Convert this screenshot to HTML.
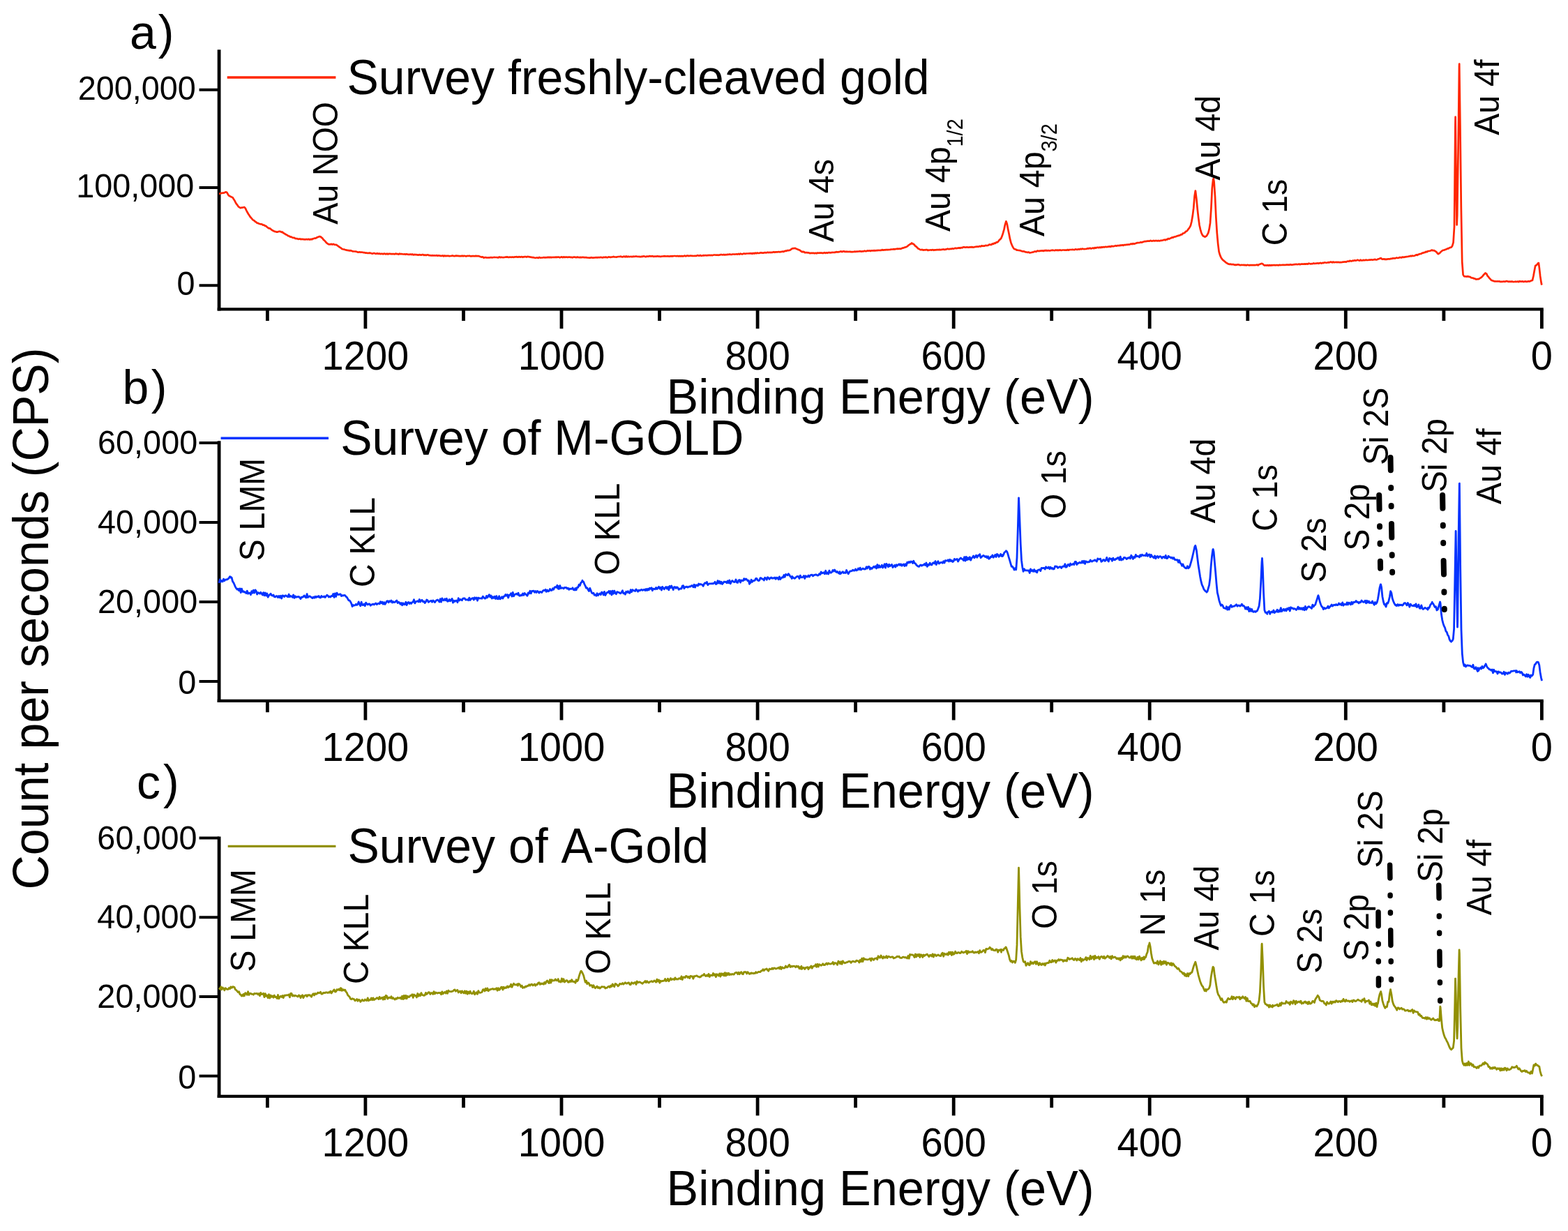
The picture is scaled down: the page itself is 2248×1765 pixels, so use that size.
<!DOCTYPE html>
<html lang="en">
<head>
<meta charset="utf-8">
<title>XPS survey spectra</title>
<style>
html,body{margin:0;padding:0;background:#fff;}
body{width:2248px;height:1765px;overflow:hidden;}
svg{display:block;}
svg text{font-family:"Liberation Sans", Arial, Helvetica, sans-serif;fill:#000;font-kerning:none;font-variant-ligatures:none;}
</style>
</head>
<body>
<svg width="2248" height="1765" viewBox="0 0 2248 1765">
<rect width="2248" height="1765" fill="#fff"/>
<g id="panel-a">
<path d="M314.1 71.3 V445.5" fill="none" stroke="#000" stroke-width="4.8"/>
<path d="M311.7 443.4 H2212.8" fill="none" stroke="#000" stroke-width="4.2"/>
<path d="M285.6 409.2 H314.1 M285.6 268.9 H314.1 M285.6 128.7 H314.1" fill="none" stroke="#000" stroke-width="4.0"/>
<path d="M2210.4 443.4 v27.8 M2069.9 443.4 v16.5 M1929.3 443.4 v27.8 M1788.8 443.4 v16.5 M1648.2 443.4 v27.8 M1507.7 443.4 v16.5 M1367.2 443.4 v27.8 M1226.6 443.4 v16.5 M1086.1 443.4 v27.8 M945.5 443.4 v16.5 M805.0 443.4 v27.8 M664.5 443.4 v16.5 M523.9 443.4 v27.8 M383.4 443.4 v16.5" fill="none" stroke="#000" stroke-width="4.8"/>
<text transform="translate(279.6 423.4) scale(1 1.04)" font-size="46.8" text-anchor="end">0</text>
<text transform="translate(278.3 283.1) scale(1 1.04)" font-size="46.8" text-anchor="end">100,000</text>
<text transform="translate(280.9 142.9) scale(1 1.04)" font-size="46.8" text-anchor="end">200,000</text>
<text transform="translate(2210.4 530.0) scale(1 1.04)" font-size="56.0" text-anchor="middle">0</text>
<text transform="translate(1929.3 530.0) scale(1 1.04)" font-size="56.0" text-anchor="middle">200</text>
<text transform="translate(1648.2 530.0) scale(1 1.04)" font-size="56.0" text-anchor="middle">400</text>
<text transform="translate(1367.2 530.0) scale(1 1.04)" font-size="56.0" text-anchor="middle">600</text>
<text transform="translate(1086.1 530.0) scale(1 1.04)" font-size="56.0" text-anchor="middle">800</text>
<text transform="translate(805.0 530.0) scale(1 1.04)" font-size="56.0" text-anchor="middle">1000</text>
<text transform="translate(523.9 530.0) scale(1 1.04)" font-size="56.0" text-anchor="middle">1200</text>
<text transform="translate(1262.0 592.6) scale(1 1.025)" font-size="68.5" text-anchor="middle">Binding Energy (eV)</text>
</g>
<g id="panel-b">
<path d="M314.1 632.2 V1006.9" fill="none" stroke="#000" stroke-width="4.8"/>
<path d="M311.7 1004.8 H2212.8" fill="none" stroke="#000" stroke-width="4.2"/>
<path d="M285.6 977.0 H314.1 M285.6 863.0 H314.1 M285.6 749.0 H314.1 M285.6 635.0 H314.1" fill="none" stroke="#000" stroke-width="4.0"/>
<path d="M2210.4 1004.8 v27.8 M2069.9 1004.8 v16.5 M1929.3 1004.8 v27.8 M1788.8 1004.8 v16.5 M1648.2 1004.8 v27.8 M1507.7 1004.8 v16.5 M1367.2 1004.8 v27.8 M1226.6 1004.8 v16.5 M1086.1 1004.8 v27.8 M945.5 1004.8 v16.5 M805.0 1004.8 v27.8 M664.5 1004.8 v16.5 M523.9 1004.8 v27.8 M383.4 1004.8 v16.5" fill="none" stroke="#000" stroke-width="4.8"/>
<text transform="translate(281.2 994.8) scale(1 1.04)" font-size="46.8" text-anchor="end">0</text>
<text transform="translate(283.2 879.0) scale(1 1.04)" font-size="46.8" text-anchor="end">20,000</text>
<text transform="translate(283.2 765.0) scale(1 1.04)" font-size="46.8" text-anchor="end">40,000</text>
<text transform="translate(283.2 651.0) scale(1 1.04)" font-size="46.8" text-anchor="end">60,000</text>
<text transform="translate(2210.4 1091.4) scale(1 1.04)" font-size="56.0" text-anchor="middle">0</text>
<text transform="translate(1929.3 1091.4) scale(1 1.04)" font-size="56.0" text-anchor="middle">200</text>
<text transform="translate(1648.2 1091.4) scale(1 1.04)" font-size="56.0" text-anchor="middle">400</text>
<text transform="translate(1367.2 1091.4) scale(1 1.04)" font-size="56.0" text-anchor="middle">600</text>
<text transform="translate(1086.1 1091.4) scale(1 1.04)" font-size="56.0" text-anchor="middle">800</text>
<text transform="translate(805.0 1091.4) scale(1 1.04)" font-size="56.0" text-anchor="middle">1000</text>
<text transform="translate(523.9 1091.4) scale(1 1.04)" font-size="56.0" text-anchor="middle">1200</text>
<text transform="translate(1262.0 1158.0) scale(1 1.025)" font-size="68.5" text-anchor="middle">Binding Energy (eV)</text>
</g>
<g id="panel-c">
<path d="M314.1 1199.5 V1573.9" fill="none" stroke="#000" stroke-width="4.8"/>
<path d="M311.7 1571.8 H2212.8" fill="none" stroke="#000" stroke-width="4.2"/>
<path d="M285.6 1542.8 H314.1 M285.6 1429.0 H314.1 M285.6 1315.3 H314.1 M285.6 1201.5 H314.1" fill="none" stroke="#000" stroke-width="4.0"/>
<path d="M2210.4 1571.8 v27.8 M2069.9 1571.8 v16.5 M1929.3 1571.8 v27.8 M1788.8 1571.8 v16.5 M1648.2 1571.8 v27.8 M1507.7 1571.8 v16.5 M1367.2 1571.8 v27.8 M1226.6 1571.8 v16.5 M1086.1 1571.8 v27.8 M945.5 1571.8 v16.5 M805.0 1571.8 v27.8 M664.5 1571.8 v16.5 M523.9 1571.8 v27.8 M383.4 1571.8 v16.5" fill="none" stroke="#000" stroke-width="4.8"/>
<text transform="translate(281.3 1561.1) scale(1 1.04)" font-size="46.8" text-anchor="end">0</text>
<text transform="translate(282.5 1445.0) scale(1 1.04)" font-size="46.8" text-anchor="end">20,000</text>
<text transform="translate(282.5 1331.3) scale(1 1.04)" font-size="46.8" text-anchor="end">40,000</text>
<text transform="translate(282.5 1217.5) scale(1 1.04)" font-size="46.8" text-anchor="end">60,000</text>
<text transform="translate(2210.4 1658.4) scale(1 1.04)" font-size="56.0" text-anchor="middle">0</text>
<text transform="translate(1929.3 1658.4) scale(1 1.04)" font-size="56.0" text-anchor="middle">200</text>
<text transform="translate(1648.2 1658.4) scale(1 1.04)" font-size="56.0" text-anchor="middle">400</text>
<text transform="translate(1367.2 1658.4) scale(1 1.04)" font-size="56.0" text-anchor="middle">600</text>
<text transform="translate(1086.1 1658.4) scale(1 1.04)" font-size="56.0" text-anchor="middle">800</text>
<text transform="translate(805.0 1658.4) scale(1 1.04)" font-size="56.0" text-anchor="middle">1000</text>
<text transform="translate(523.9 1658.4) scale(1 1.04)" font-size="56.0" text-anchor="middle">1200</text>
<text transform="translate(1262.0 1728.0) scale(1 1.025)" font-size="68.5" text-anchor="middle">Binding Energy (eV)</text>
</g>
<text transform="translate(186.0 69.9)" font-size="68.0" letter-spacing="3">a)</text>
<text transform="translate(175.5 579.2)" font-size="68.0" letter-spacing="3.5">b)</text>
<text transform="translate(196.0 1145.4)" font-size="68.0" letter-spacing="4">c)</text>
<path d="M325.7 111 H481.4" stroke="#FF2600" stroke-width="3.4"/>
<text transform="translate(497.5 135.0) scale(1 1.025)" font-size="68.0">Survey freshly-cleaved gold</text>
<path d="M316.6 628.2 H471" stroke="#0433FF" stroke-width="3.4"/>
<text transform="translate(488.2 651.5) scale(1 1.025)" font-size="68.0">Survey of M-GOLD</text>
<path d="M326.7 1213.4 H481.4" stroke="#929000" stroke-width="3.4"/>
<text transform="translate(498.5 1236.5) scale(1 1.025)" font-size="68.0">Survey of A-Gold</text>
<text transform="translate(69.2 887.0) rotate(-90) scale(1 1.05)" font-size="68.2" text-anchor="middle">Count per seconds (CPS)</text>
<g id="spectra" fill="none" stroke-linejoin="round" stroke-linecap="butt">
<path d="M314.0 277.8 L315.4 277.6 L316.8 277.1 L318.2 276.8 L319.6 276.6 L321.0 276.6 L322.4 275.8 L323.8 275.4 L325.2 275.7 L326.6 278.3 L328.0 280.6 L329.4 281.1 L330.8 282.1 L332.2 282.6 L333.6 283.3 L335.0 285.4 L336.4 287.6 L337.8 290.5 L339.2 292.7 L340.6 294.4 L342.0 296.4 L343.4 297.3 L344.8 298.2 L346.2 297.7 L347.6 297.6 L349.0 297.3 L350.0 297.0 L350.4 297.1 L351.8 298.7 L353.2 301.6 L354.6 304.3 L356.0 306.7 L357.4 308.7 L358.8 311.0 L360.2 312.5 L361.6 314.2 L363.0 315.6 L364.4 316.3 L365.8 317.7 L367.2 318.5 L368.6 319.9 L370.0 319.9 L371.4 320.8 L372.8 321.1 L374.2 321.3 L375.6 321.5 L377.0 322.7 L378.4 322.6 L379.8 323.8 L381.2 323.9 L382.6 325.2 L384.0 326.4 L385.4 327.3 L386.8 327.4 L388.2 328.5 L389.6 329.6 L391.0 330.6 L392.4 331.2 L393.8 332.0 L395.2 332.1 L396.6 332.7 L398.0 332.6 L399.4 332.0 L400.8 331.7 L402.2 332.0 L403.6 332.8 L405.0 332.7 L406.4 334.3 L407.8 334.7 L409.2 335.9 L410.6 336.4 L412.0 337.3 L413.4 338.3 L414.8 338.6 L416.2 339.6 L417.6 339.7 L419.0 340.4 L420.4 341.0 L421.8 340.8 L423.2 341.9 L424.6 342.1 L426.0 342.1 L427.4 342.9 L428.8 342.7 L430.2 342.5 L431.6 343.2 L433.0 342.8 L434.4 343.1 L435.8 343.1 L437.2 343.5 L438.6 343.1 L440.0 343.2 L441.4 343.3 L442.8 342.8 L444.2 343.7 L445.6 342.8 L447.0 343.3 L448.4 342.3 L449.8 342.1 L451.2 341.6 L452.6 341.7 L454.0 340.7 L455.4 340.0 L456.8 339.6 L458.2 339.0 L458.8 339.3 L459.6 339.3 L461.0 340.7 L462.4 341.7 L463.8 343.8 L465.2 344.9 L466.6 346.4 L468.0 348.2 L469.4 349.1 L470.8 350.1 L472.2 350.3 L473.6 350.4 L475.0 349.8 L476.4 350.6 L477.8 349.8 L479.2 350.6 L480.6 351.0 L482.0 350.9 L483.4 351.8 L484.8 352.9 L486.2 353.9 L487.6 354.9 L489.0 355.7 L490.4 357.0 L491.8 357.3 L493.2 357.5 L494.6 358.0 L496.0 358.4 L497.4 358.8 L498.8 358.9 L500.2 359.3 L501.6 359.2 L503.0 359.4 L504.4 359.8 L505.8 360.4 L507.2 360.5 L508.6 360.5 L510.0 360.6 L511.4 361.1 L512.8 361.6 L514.2 361.6 L515.6 361.3 L517.0 361.8 L518.4 361.5 L519.8 361.8 L521.2 362.2 L522.6 362.2 L524.0 362.6 L525.4 362.7 L526.8 362.8 L528.2 363.0 L529.6 362.6 L531.0 362.8 L532.4 363.3 L533.8 363.7 L535.2 363.2 L536.6 363.1 L538.0 363.6 L539.4 363.8 L540.8 363.2 L542.2 364.0 L543.6 363.4 L545.0 364.2 L546.4 363.8 L547.8 363.9 L549.2 364.3 L550.6 363.6 L552.0 363.8 L553.4 364.4 L554.8 363.6 L556.2 364.5 L557.6 363.8 L559.0 363.8 L560.4 364.1 L561.8 364.0 L563.2 364.1 L564.6 364.0 L566.0 364.4 L567.4 363.6 L568.8 364.2 L570.2 364.1 L571.6 364.7 L573.0 363.7 L574.4 364.3 L575.8 364.0 L577.2 364.3 L578.6 364.5 L580.0 364.4 L581.4 364.8 L582.8 364.2 L584.2 364.7 L585.6 364.8 L587.0 364.8 L588.4 364.6 L589.8 365.1 L591.2 364.5 L592.6 365.4 L594.0 364.9 L595.4 365.1 L596.8 365.2 L598.2 365.4 L599.6 365.6 L601.0 365.2 L602.4 365.4 L603.8 365.6 L605.2 365.2 L606.6 365.2 L608.0 366.0 L609.4 365.5 L610.8 366.1 L612.2 365.5 L613.6 365.4 L615.0 366.2 L616.4 366.0 L617.8 366.5 L619.2 366.2 L620.6 366.3 L622.0 366.4 L623.4 366.3 L624.8 366.5 L626.2 366.1 L627.6 366.8 L629.0 366.3 L630.4 366.6 L631.8 366.9 L633.2 366.9 L634.6 366.4 L636.0 367.3 L637.4 366.5 L638.8 367.1 L640.2 366.9 L641.6 366.8 L643.0 366.9 L644.4 367.3 L645.8 367.0 L647.2 367.0 L648.6 366.4 L650.0 366.9 L651.4 367.2 L652.8 366.9 L654.2 366.7 L655.6 366.9 L657.0 366.9 L658.4 367.2 L659.8 367.0 L661.2 367.2 L662.6 366.7 L664.0 367.3 L665.4 366.8 L666.8 367.0 L668.2 367.4 L669.6 366.9 L671.0 367.0 L672.4 366.9 L673.8 366.9 L675.2 367.4 L676.6 367.2 L678.0 367.1 L679.4 367.0 L680.8 367.3 L682.2 366.9 L683.6 367.2 L685.0 367.0 L686.4 367.1 L687.8 367.8 L689.2 368.2 L690.6 368.6 L692.0 368.3 L693.4 369.6 L694.8 369.2 L696.2 369.1 L697.6 369.3 L699.0 369.5 L700.4 369.4 L701.8 369.3 L703.2 369.2 L704.6 369.2 L706.0 369.3 L707.4 369.0 L708.8 368.9 L710.2 369.0 L711.6 369.0 L713.0 369.1 L714.4 369.5 L715.8 368.4 L717.2 369.2 L718.6 368.7 L720.0 369.0 L721.4 369.1 L722.8 369.0 L724.2 368.7 L725.6 368.6 L727.0 368.4 L728.4 368.8 L729.8 368.9 L731.2 368.5 L732.6 368.8 L734.0 368.7 L735.4 368.6 L736.8 368.8 L738.2 368.4 L739.6 368.3 L741.0 368.2 L742.4 368.7 L743.8 368.2 L745.2 368.4 L746.6 368.6 L748.0 368.1 L749.4 368.8 L750.8 368.3 L752.2 368.1 L753.6 368.1 L755.0 368.6 L756.4 367.8 L757.8 368.2 L759.2 368.4 L760.6 368.6 L762.0 368.8 L763.4 369.1 L764.8 369.1 L766.2 369.5 L767.6 369.8 L769.0 369.5 L770.4 369.4 L771.8 369.9 L773.2 368.9 L774.6 369.6 L776.0 369.5 L777.4 369.5 L778.8 369.2 L780.2 369.2 L781.6 369.4 L783.0 369.0 L784.4 369.3 L785.8 368.6 L787.2 369.3 L788.6 368.7 L790.0 369.3 L791.4 368.9 L792.8 369.0 L794.2 368.7 L795.6 369.0 L797.0 368.6 L798.4 368.9 L799.8 368.7 L801.2 368.6 L802.6 369.3 L804.0 368.8 L805.4 368.3 L806.8 369.2 L808.2 368.3 L809.6 368.9 L811.0 368.6 L812.4 368.7 L813.8 368.9 L815.2 368.7 L816.6 368.5 L818.0 368.9 L819.4 368.9 L820.8 369.3 L822.2 368.6 L823.6 368.7 L825.0 368.9 L826.4 369.1 L827.8 368.6 L829.2 368.9 L830.6 369.1 L832.0 368.9 L833.4 369.1 L834.8 368.9 L836.2 368.9 L837.6 369.1 L839.0 369.1 L840.4 369.1 L841.8 369.4 L843.2 369.5 L844.6 369.6 L846.0 369.6 L847.4 369.2 L848.8 369.3 L850.2 369.7 L851.6 369.3 L853.0 369.5 L854.4 369.0 L855.8 369.4 L857.2 369.1 L858.6 369.1 L860.0 369.1 L861.4 368.8 L862.8 369.2 L864.2 369.3 L865.6 368.7 L867.0 369.0 L868.4 368.6 L869.8 369.1 L871.2 369.1 L872.6 368.3 L874.0 368.7 L875.4 368.9 L876.8 368.5 L878.2 368.5 L879.6 367.9 L881.0 368.5 L882.4 368.5 L883.8 368.6 L885.2 368.3 L886.6 368.0 L888.0 368.0 L889.4 367.7 L890.8 367.9 L892.2 368.4 L893.6 367.9 L895.0 367.7 L896.4 368.4 L897.8 367.4 L899.2 368.4 L900.6 367.7 L902.0 368.1 L903.4 368.0 L904.8 367.9 L906.2 368.2 L907.6 367.7 L909.0 367.8 L910.4 367.7 L911.8 367.5 L913.2 367.7 L914.6 368.0 L916.0 367.9 L917.4 368.1 L918.8 368.2 L920.2 367.7 L921.6 367.8 L923.0 367.3 L924.4 367.8 L925.8 368.2 L927.2 367.6 L928.6 367.6 L930.0 367.7 L931.4 367.1 L932.8 367.6 L934.2 367.3 L935.6 367.2 L937.0 367.9 L938.4 367.7 L939.8 367.5 L941.2 367.6 L942.6 367.2 L944.0 367.7 L945.4 367.6 L946.8 367.8 L948.2 367.7 L949.6 367.5 L951.0 367.4 L952.4 367.2 L953.8 367.3 L955.2 367.5 L956.6 367.4 L958.0 367.3 L959.4 367.7 L960.8 367.3 L962.2 367.3 L963.6 367.2 L965.0 367.3 L966.4 367.0 L967.8 367.0 L969.2 367.3 L970.6 367.0 L972.0 367.1 L973.4 367.4 L974.8 366.9 L976.2 367.5 L977.6 366.9 L979.0 367.5 L980.4 367.0 L981.8 366.6 L983.2 367.4 L984.6 366.7 L986.0 366.5 L987.4 367.1 L988.8 366.8 L990.2 366.5 L991.6 366.8 L993.0 366.9 L994.4 367.0 L995.8 366.9 L997.2 366.9 L998.6 366.8 L1000.0 366.1 L1001.4 366.6 L1002.8 366.6 L1004.2 366.0 L1005.6 366.8 L1007.0 366.5 L1008.4 366.1 L1009.8 366.3 L1011.2 366.0 L1012.6 366.3 L1014.0 366.1 L1015.4 366.1 L1016.8 365.8 L1018.2 366.2 L1019.6 365.8 L1021.0 366.2 L1022.4 365.8 L1023.8 365.5 L1025.2 365.5 L1026.6 365.8 L1028.0 365.5 L1029.4 365.8 L1030.8 365.7 L1032.2 365.4 L1033.6 365.0 L1035.0 365.2 L1036.4 365.5 L1037.8 364.9 L1039.2 365.6 L1040.6 365.0 L1042.0 365.3 L1043.4 364.7 L1044.8 365.0 L1046.2 364.4 L1047.6 365.0 L1049.0 364.9 L1050.4 364.5 L1051.8 364.5 L1053.2 364.6 L1054.6 364.5 L1056.0 364.3 L1057.4 364.6 L1058.8 363.8 L1060.2 364.7 L1061.6 363.7 L1063.0 364.1 L1064.4 364.4 L1065.8 363.6 L1067.2 363.6 L1068.6 364.0 L1070.0 363.5 L1071.4 363.5 L1072.8 363.5 L1074.2 363.4 L1075.6 363.3 L1077.0 363.2 L1078.4 363.8 L1079.8 362.9 L1081.2 363.6 L1082.6 362.6 L1084.0 363.3 L1085.4 362.6 L1086.8 362.9 L1088.2 363.0 L1089.6 362.6 L1091.0 362.2 L1092.4 362.6 L1093.8 362.5 L1095.2 362.6 L1096.6 362.1 L1098.0 362.3 L1099.4 362.2 L1100.8 361.7 L1102.2 362.2 L1103.6 361.8 L1105.0 362.1 L1106.4 361.8 L1107.8 361.8 L1109.2 361.2 L1110.6 361.8 L1112.0 361.4 L1113.4 361.3 L1114.8 361.3 L1116.2 361.0 L1117.6 361.3 L1119.0 361.1 L1120.4 361.0 L1121.8 360.5 L1123.2 361.0 L1124.6 360.3 L1126.0 359.7 L1127.4 359.8 L1128.8 359.0 L1130.2 359.2 L1131.6 358.9 L1133.0 358.5 L1134.4 357.3 L1135.8 356.3 L1137.2 356.2 L1138.6 356.1 L1140.0 355.8 L1141.4 356.7 L1142.8 357.1 L1144.2 357.9 L1145.6 358.3 L1147.0 358.9 L1148.4 360.1 L1149.8 361.1 L1151.2 360.9 L1152.6 361.1 L1154.0 362.3 L1155.4 362.0 L1156.8 362.2 L1158.2 362.4 L1159.6 362.4 L1161.0 363.2 L1162.4 362.9 L1163.8 362.9 L1165.2 362.9 L1166.6 362.9 L1168.0 363.3 L1169.4 362.8 L1170.8 363.3 L1172.2 362.5 L1173.6 362.8 L1175.0 362.7 L1176.4 362.7 L1177.8 362.7 L1179.2 362.9 L1180.6 362.8 L1182.0 362.2 L1183.4 362.9 L1184.8 362.3 L1186.2 362.8 L1187.6 362.1 L1189.0 362.1 L1190.4 362.4 L1191.8 362.2 L1193.2 361.9 L1194.6 362.0 L1196.0 361.9 L1197.4 361.8 L1198.8 361.1 L1200.2 361.3 L1201.6 361.3 L1203.0 361.2 L1204.4 360.8 L1205.8 360.4 L1207.2 361.2 L1208.6 360.3 L1210.0 360.3 L1211.4 361.0 L1212.8 360.7 L1214.2 360.9 L1215.6 360.9 L1217.0 361.0 L1218.4 360.7 L1219.8 361.1 L1221.2 361.0 L1222.6 361.1 L1224.0 361.0 L1225.4 360.6 L1226.8 360.8 L1228.2 360.7 L1229.6 360.7 L1231.0 360.5 L1232.4 360.2 L1233.8 360.4 L1235.2 360.6 L1236.6 360.3 L1238.0 360.4 L1239.4 359.7 L1240.8 360.1 L1242.2 360.2 L1243.6 359.4 L1245.0 359.7 L1246.4 359.3 L1247.8 360.0 L1249.2 359.3 L1250.6 359.3 L1252.0 359.4 L1253.4 359.1 L1254.8 359.3 L1256.2 359.2 L1257.6 359.1 L1259.0 358.9 L1260.4 359.0 L1261.8 358.8 L1263.2 358.9 L1264.6 358.1 L1266.0 358.7 L1267.4 358.3 L1268.8 358.4 L1270.2 358.2 L1271.6 358.2 L1273.0 358.2 L1274.4 358.0 L1275.8 358.0 L1277.2 357.6 L1278.6 357.5 L1280.0 357.5 L1281.4 357.1 L1282.8 357.4 L1284.2 357.0 L1285.6 356.8 L1287.0 356.6 L1288.4 356.8 L1289.8 356.5 L1291.2 356.9 L1292.6 356.2 L1294.0 355.6 L1295.4 355.4 L1296.8 354.8 L1298.2 354.4 L1299.6 353.9 L1301.0 353.1 L1302.4 351.7 L1303.8 350.9 L1305.2 349.7 L1306.6 349.5 L1307.2 348.5 L1308.0 349.5 L1309.4 349.7 L1310.8 350.9 L1312.2 352.8 L1313.6 353.5 L1315.0 355.1 L1316.4 356.4 L1317.8 357.0 L1319.2 358.0 L1320.6 358.3 L1322.0 357.8 L1323.4 358.6 L1324.8 358.3 L1326.2 358.5 L1327.6 358.1 L1329.0 358.1 L1330.4 359.0 L1331.8 358.6 L1333.2 358.5 L1334.6 358.4 L1336.0 358.6 L1337.4 358.1 L1338.8 358.8 L1340.2 358.3 L1341.6 358.3 L1343.0 358.2 L1344.4 358.2 L1345.8 358.1 L1347.2 357.9 L1348.6 358.2 L1350.0 357.8 L1351.4 357.7 L1352.8 357.4 L1354.2 357.9 L1355.6 357.6 L1357.0 357.4 L1358.4 356.7 L1359.8 357.1 L1361.2 357.1 L1362.6 356.7 L1364.0 357.0 L1365.4 356.3 L1366.8 356.7 L1368.2 356.3 L1369.6 355.7 L1371.0 356.1 L1372.4 355.8 L1373.8 355.6 L1375.2 355.4 L1376.6 355.8 L1378.0 355.0 L1379.4 355.3 L1380.8 354.4 L1382.2 354.3 L1383.6 354.6 L1385.0 354.6 L1386.4 354.3 L1387.8 354.7 L1389.2 354.6 L1390.6 354.3 L1392.0 354.4 L1393.4 354.1 L1394.8 354.6 L1396.2 354.5 L1397.6 354.0 L1399.0 353.8 L1400.4 353.6 L1401.8 353.5 L1403.2 353.6 L1404.6 352.9 L1406.0 353.5 L1407.4 352.4 L1408.8 352.8 L1410.2 352.7 L1411.6 352.6 L1413.0 351.8 L1414.4 352.1 L1415.8 352.0 L1417.2 351.4 L1418.6 350.5 L1420.0 350.9 L1421.4 350.8 L1422.8 349.4 L1424.2 349.9 L1425.6 348.5 L1427.0 348.9 L1428.4 347.4 L1429.8 347.4 L1431.2 346.2 L1432.6 344.3 L1434.0 343.1 L1435.4 341.5 L1436.8 338.1 L1438.2 333.7 L1439.6 328.6 L1441.0 321.9 L1442.4 317.4 L1442.5 317.5 L1443.8 321.2 L1445.2 328.7 L1446.6 335.4 L1448.0 342.7 L1449.4 347.9 L1450.8 351.5 L1452.2 354.4 L1453.6 356.6 L1455.0 357.3 L1456.4 357.6 L1457.8 358.7 L1459.2 358.7 L1460.6 359.0 L1462.0 359.1 L1463.4 359.6 L1464.8 360.1 L1466.2 360.3 L1467.6 360.4 L1469.0 360.8 L1470.4 361.4 L1471.8 361.5 L1473.2 362.0 L1474.6 361.5 L1476.0 362.3 L1477.4 362.3 L1478.8 362.0 L1480.2 361.6 L1481.6 361.5 L1483.0 360.5 L1484.4 360.6 L1485.8 360.8 L1487.2 359.6 L1488.6 359.8 L1490.0 360.1 L1491.4 359.5 L1492.8 359.6 L1494.2 359.3 L1495.6 360.0 L1497.0 359.1 L1498.4 359.4 L1499.8 358.8 L1501.2 359.6 L1502.6 359.1 L1504.0 359.3 L1505.4 359.4 L1506.8 359.0 L1508.2 358.7 L1509.6 358.8 L1511.0 359.0 L1512.4 359.2 L1513.8 358.4 L1515.2 358.9 L1516.6 358.7 L1518.0 358.9 L1519.4 358.4 L1520.8 358.8 L1522.2 358.8 L1523.6 358.5 L1525.0 358.5 L1526.4 358.6 L1527.8 358.5 L1529.2 358.7 L1530.6 358.0 L1532.0 358.7 L1533.4 358.0 L1534.8 358.0 L1536.2 358.0 L1537.6 357.7 L1539.0 358.0 L1540.4 358.1 L1541.8 357.3 L1543.2 357.6 L1544.6 357.8 L1546.0 357.3 L1547.4 357.7 L1548.8 356.9 L1550.2 357.3 L1551.6 356.6 L1553.0 357.0 L1554.4 357.1 L1555.8 357.0 L1557.2 357.0 L1558.6 356.4 L1560.0 356.2 L1561.4 356.3 L1562.8 355.7 L1564.2 356.5 L1565.6 356.0 L1567.0 355.5 L1568.4 356.2 L1569.8 355.0 L1571.2 355.7 L1572.6 354.9 L1574.0 354.8 L1575.4 355.2 L1576.8 354.5 L1578.2 355.1 L1579.6 354.2 L1581.0 354.6 L1582.4 354.1 L1583.8 354.3 L1585.2 353.8 L1586.6 354.2 L1588.0 353.8 L1589.4 353.6 L1590.8 353.4 L1592.2 353.8 L1593.6 352.8 L1595.0 353.1 L1596.4 353.1 L1597.8 352.7 L1599.2 352.2 L1600.6 352.6 L1602.0 352.2 L1603.4 352.0 L1604.8 352.2 L1606.2 351.6 L1607.6 351.8 L1609.0 351.3 L1610.4 351.9 L1611.8 351.0 L1613.2 351.3 L1614.6 350.9 L1616.0 350.9 L1617.4 350.5 L1618.8 350.6 L1620.2 350.2 L1621.6 349.5 L1623.0 350.1 L1624.4 349.2 L1625.8 349.8 L1627.2 349.2 L1628.6 348.9 L1630.0 348.2 L1631.4 348.1 L1632.8 348.0 L1634.2 347.8 L1635.6 347.2 L1637.0 347.7 L1638.4 346.8 L1639.8 346.6 L1641.2 346.1 L1642.6 346.1 L1644.0 345.8 L1645.4 345.6 L1646.8 345.6 L1648.2 345.7 L1649.6 344.9 L1651.0 345.6 L1652.4 345.5 L1653.8 344.9 L1655.2 345.4 L1656.6 345.1 L1658.0 345.0 L1659.4 345.5 L1660.8 344.9 L1662.2 345.4 L1663.6 344.9 L1665.0 344.8 L1666.4 344.7 L1667.8 344.3 L1669.2 343.7 L1670.6 344.3 L1672.0 343.3 L1673.4 343.4 L1674.8 342.1 L1676.2 342.6 L1677.6 341.8 L1679.0 341.3 L1680.4 340.3 L1681.8 340.6 L1683.2 339.7 L1684.6 339.5 L1686.0 339.1 L1687.4 338.4 L1688.8 338.2 L1690.2 337.6 L1691.6 337.4 L1693.0 336.3 L1694.4 336.3 L1695.8 334.6 L1697.2 334.4 L1698.6 333.6 L1700.0 331.9 L1701.4 331.5 L1702.8 329.8 L1704.2 327.9 L1705.6 325.9 L1707.0 323.3 L1708.4 317.6 L1709.8 309.6 L1711.2 298.4 L1712.6 281.1 L1713.8 273.6 L1714.0 274.1 L1715.4 285.4 L1716.8 300.4 L1718.2 312.6 L1719.6 323.0 L1721.0 329.1 L1722.4 334.0 L1723.8 336.9 L1725.2 338.6 L1726.6 339.0 L1727.5 339.8 L1728.0 339.1 L1729.4 338.8 L1730.8 336.7 L1732.2 334.1 L1733.6 328.7 L1735.0 319.9 L1736.4 298.8 L1737.8 269.8 L1739.2 257.1 L1739.8 256.2 L1740.6 260.8 L1742.0 281.5 L1743.4 312.1 L1744.8 334.1 L1746.2 349.6 L1747.6 360.8 L1749.0 365.6 L1750.4 368.9 L1751.8 371.2 L1753.2 372.8 L1754.6 373.9 L1756.0 375.0 L1757.4 376.3 L1758.8 377.1 L1760.2 378.1 L1761.6 378.7 L1763.0 378.9 L1764.4 378.7 L1765.8 379.2 L1767.2 379.2 L1768.6 379.2 L1770.0 379.8 L1771.4 379.6 L1772.8 379.8 L1774.2 379.4 L1775.6 379.3 L1777.0 379.9 L1778.4 380.2 L1779.8 379.8 L1781.2 380.0 L1782.6 379.9 L1784.0 380.1 L1785.4 379.9 L1786.8 380.4 L1788.2 379.8 L1789.6 380.0 L1791.0 380.4 L1792.4 380.1 L1793.8 380.2 L1795.2 380.1 L1796.6 380.0 L1798.0 380.1 L1799.4 380.1 L1800.8 380.0 L1802.2 379.5 L1803.6 380.4 L1805.0 379.2 L1806.4 378.8 L1807.8 378.2 L1809.2 377.8 L1810.6 378.6 L1812.0 380.1 L1813.4 380.7 L1814.8 380.3 L1816.2 380.7 L1817.6 380.1 L1819.0 380.8 L1820.4 380.0 L1821.8 380.7 L1823.2 380.1 L1824.6 380.3 L1826.0 380.0 L1827.4 380.1 L1828.8 380.3 L1830.2 380.0 L1831.6 380.2 L1833.0 380.4 L1834.4 379.8 L1835.8 380.1 L1837.2 380.0 L1838.6 379.8 L1840.0 379.9 L1841.4 379.9 L1842.8 380.0 L1844.2 379.5 L1845.6 379.7 L1847.0 379.6 L1848.4 379.9 L1849.8 379.2 L1851.2 379.6 L1852.6 379.6 L1854.0 379.5 L1855.4 379.1 L1856.8 379.1 L1858.2 378.8 L1859.6 379.1 L1861.0 379.0 L1862.4 378.6 L1863.8 379.2 L1865.2 378.7 L1866.6 378.7 L1868.0 378.5 L1869.4 378.7 L1870.8 378.4 L1872.2 378.6 L1873.6 378.2 L1875.0 378.6 L1876.4 377.7 L1877.8 378.0 L1879.2 378.5 L1880.6 378.0 L1882.0 378.2 L1883.4 377.4 L1884.8 378.0 L1886.2 377.7 L1887.6 377.7 L1889.0 377.3 L1890.4 377.8 L1891.8 377.2 L1893.2 376.9 L1894.6 377.6 L1896.0 376.8 L1897.4 377.2 L1898.8 376.4 L1900.2 376.5 L1901.6 376.8 L1903.0 376.5 L1904.4 376.1 L1905.8 376.4 L1907.2 375.7 L1908.6 375.7 L1910.0 376.4 L1911.4 375.5 L1912.8 376.2 L1914.2 376.0 L1915.6 375.8 L1917.0 376.1 L1918.4 375.8 L1919.8 376.2 L1921.2 376.1 L1922.6 376.2 L1924.0 376.0 L1925.4 375.6 L1926.8 375.7 L1928.2 375.3 L1929.6 375.7 L1931.0 375.1 L1932.4 374.5 L1933.8 374.8 L1935.2 373.8 L1936.6 374.3 L1938.0 374.3 L1939.4 373.6 L1940.8 373.9 L1942.2 373.2 L1943.6 373.6 L1945.0 373.3 L1946.4 372.7 L1947.8 373.2 L1949.2 373.6 L1950.6 372.7 L1952.0 373.5 L1953.4 373.3 L1954.8 372.9 L1956.2 373.2 L1957.6 372.9 L1959.0 372.7 L1960.4 373.0 L1961.8 372.8 L1963.2 372.5 L1964.6 372.7 L1966.0 372.3 L1967.4 372.6 L1968.8 372.5 L1970.2 372.1 L1971.6 371.9 L1973.0 372.5 L1974.4 372.2 L1975.8 371.3 L1977.2 371.2 L1978.6 370.4 L1980.0 370.1 L1981.4 371.7 L1982.8 371.6 L1984.2 371.3 L1985.6 372.0 L1987.0 371.6 L1988.4 371.8 L1989.8 371.4 L1991.2 371.4 L1992.6 371.4 L1994.0 370.8 L1995.4 371.0 L1996.8 370.3 L1998.2 370.3 L1999.6 370.4 L2001.0 370.1 L2002.4 369.5 L2003.8 370.0 L2005.2 369.7 L2006.6 369.0 L2008.0 369.2 L2009.4 369.4 L2010.8 368.5 L2012.2 368.9 L2013.6 368.6 L2015.0 368.3 L2016.4 368.1 L2017.8 368.0 L2019.2 367.7 L2020.6 367.5 L2022.0 366.9 L2023.4 367.3 L2024.8 366.6 L2026.2 367.0 L2027.6 366.7 L2029.0 366.2 L2030.4 365.3 L2031.8 365.9 L2033.2 365.0 L2034.6 364.4 L2036.0 364.0 L2037.4 364.0 L2038.8 362.9 L2040.2 362.7 L2041.6 362.1 L2043.0 361.9 L2044.4 360.8 L2045.8 361.3 L2047.2 360.0 L2048.6 360.0 L2050.0 359.7 L2051.4 359.3 L2052.8 358.5 L2054.2 359.2 L2055.6 359.0 L2057.0 359.7 L2058.4 360.7 L2059.8 361.7 L2061.2 363.7 L2062.4 364.1 L2062.6 363.5 L2064.0 363.0 L2065.4 361.3 L2066.8 360.2 L2068.2 359.0 L2069.6 358.7 L2071.0 358.4 L2072.4 357.7 L2073.8 357.3 L2075.2 356.3 L2076.6 356.4 L2078.0 355.3 L2079.4 354.9 L2080.8 354.5 L2082.2 352.4 L2083.6 347.6 L2085.0 325.2 L2086.4 177.9 L2086.6 167.7 L2087.8 267.4 L2088.6 322.4 L2089.2 308.9 L2090.6 215.8 L2092.0 95.4 L2092.2 91.5 L2093.4 178.2 L2094.8 296.0 L2096.2 375.3 L2097.6 393.9 L2099.0 396.1 L2100.4 396.5 L2101.8 396.4 L2103.2 396.7 L2104.6 396.1 L2106.0 396.9 L2107.4 396.8 L2108.8 397.9 L2110.2 398.5 L2111.6 398.5 L2113.0 399.4 L2114.4 399.4 L2115.8 400.3 L2117.2 400.4 L2118.6 400.2 L2120.0 400.2 L2121.4 399.1 L2122.8 398.4 L2124.2 397.4 L2125.6 395.9 L2127.0 394.1 L2128.4 392.8 L2129.6 391.5 L2129.8 391.9 L2131.2 392.5 L2132.6 395.6 L2134.0 396.9 L2135.4 398.9 L2136.8 400.4 L2138.2 401.9 L2139.6 402.2 L2141.0 402.9 L2142.4 403.3 L2143.8 403.4 L2145.2 403.5 L2146.6 403.3 L2148.0 403.5 L2149.4 403.3 L2150.8 403.9 L2152.2 403.8 L2153.6 403.8 L2155.0 403.7 L2156.4 403.5 L2157.8 403.9 L2159.2 403.2 L2160.6 403.2 L2162.0 403.6 L2163.4 404.1 L2164.8 403.6 L2166.2 404.1 L2167.6 403.4 L2169.0 404.1 L2170.4 404.0 L2171.8 403.9 L2173.2 403.7 L2174.6 404.0 L2176.0 403.5 L2177.4 404.2 L2178.8 403.2 L2180.2 403.6 L2181.6 403.6 L2183.0 403.4 L2184.4 404.1 L2185.8 403.6 L2187.2 403.4 L2188.6 404.0 L2190.0 403.6 L2191.4 403.2 L2192.8 403.6 L2194.2 403.0 L2195.6 402.3 L2197.0 401.9 L2198.4 396.0 L2199.8 388.2 L2201.2 381.0 L2202.6 380.3 L2204.0 378.9 L2205.4 377.1 L2205.9 377.0 L2206.8 383.4 L2208.2 395.9 L2209.6 405.1 L2210.4 408.6" stroke="#FF2600" stroke-width="2.7"/>
<path d="M314.0 835.9 L315.3 830.9 L316.6 834.1 L317.9 832.5 L319.2 833.9 L320.5 830.1 L321.8 832.7 L323.1 831.1 L324.4 831.0 L325.7 830.9 L327.0 830.0 L328.3 828.7 L329.6 826.6 L330.5 828.1 L330.9 827.2 L332.2 828.3 L333.5 833.7 L334.8 835.4 L336.1 838.3 L337.4 841.4 L338.7 843.6 L340.0 845.1 L341.3 844.3 L342.6 846.8 L343.9 843.9 L345.2 849.6 L346.5 844.2 L347.8 848.3 L349.1 847.9 L350.4 849.1 L351.7 848.8 L353.0 850.7 L354.3 847.3 L355.6 851.2 L356.9 850.1 L358.2 850.1 L359.5 852.7 L360.8 847.7 L362.1 850.2 L363.4 846.3 L364.7 850.1 L366.0 845.9 L367.3 847.4 L368.6 852.1 L369.9 849.6 L371.2 850.3 L372.5 851.2 L373.8 849.3 L375.1 851.1 L376.4 853.0 L377.7 849.6 L379.0 853.9 L380.3 850.0 L381.6 854.0 L382.9 851.0 L384.2 856.2 L385.5 853.8 L386.8 852.6 L388.1 851.2 L389.4 853.6 L390.7 854.2 L392.0 852.9 L393.3 855.6 L394.6 856.0 L395.9 854.6 L397.2 854.7 L398.5 856.6 L399.8 854.5 L401.1 856.9 L402.4 854.3 L403.7 858.0 L405.0 853.9 L406.3 854.1 L407.6 855.6 L408.9 853.9 L410.2 854.0 L411.5 855.1 L412.8 855.9 L414.1 852.1 L415.4 855.8 L416.7 854.4 L418.0 855.0 L419.3 856.4 L420.6 853.0 L421.9 857.4 L423.2 854.8 L424.5 856.4 L425.8 855.6 L427.1 855.8 L428.4 855.4 L429.7 856.8 L431.0 858.6 L432.3 856.1 L433.6 856.3 L434.9 855.5 L436.2 853.9 L437.5 855.8 L438.8 857.1 L440.1 851.6 L441.4 856.6 L442.7 855.2 L444.0 854.7 L445.3 855.8 L446.6 856.5 L447.9 857.6 L449.2 856.1 L450.5 857.3 L451.8 855.1 L453.1 856.7 L454.4 855.2 L455.7 855.9 L457.0 854.6 L458.3 856.7 L459.6 857.0 L460.9 854.5 L462.2 855.9 L463.5 855.9 L464.8 855.0 L466.1 856.5 L467.4 854.9 L468.7 853.3 L470.0 853.9 L471.3 856.1 L472.6 855.1 L473.9 856.0 L475.2 854.3 L476.5 854.6 L477.8 851.5 L479.1 856.5 L480.4 850.9 L481.7 855.3 L483.0 850.1 L484.3 852.4 L485.6 852.7 L486.9 851.9 L488.2 852.0 L489.5 854.6 L490.8 853.7 L492.1 854.1 L493.4 853.5 L494.7 853.7 L496.0 855.3 L497.3 856.3 L498.6 858.6 L499.9 860.9 L501.2 861.0 L502.5 862.8 L503.8 865.3 L505.1 869.5 L506.2 867.5 L506.4 868.5 L507.7 867.9 L509.0 867.8 L510.3 866.3 L511.6 867.6 L512.9 866.3 L514.2 862.9 L515.5 866.6 L516.8 868.8 L518.1 863.2 L519.4 867.4 L520.7 867.5 L522.0 866.0 L523.3 868.7 L524.6 864.1 L525.9 865.9 L527.2 867.0 L528.5 865.9 L529.8 865.8 L531.1 868.2 L532.4 866.9 L533.7 866.8 L535.0 866.0 L536.3 867.0 L537.6 865.8 L538.9 865.0 L540.2 866.7 L541.5 865.6 L542.8 865.2 L544.1 865.8 L545.4 862.6 L546.7 864.8 L548.0 863.1 L549.3 866.1 L550.6 863.6 L551.9 866.4 L553.2 864.5 L554.5 862.0 L555.8 861.6 L557.1 863.8 L558.4 861.7 L559.7 862.6 L561.0 861.0 L562.3 864.0 L563.6 862.5 L564.9 863.6 L566.2 863.4 L567.5 862.1 L568.8 861.0 L570.1 864.6 L571.4 863.2 L572.7 864.2 L574.0 866.4 L575.3 864.4 L576.6 867.7 L577.9 864.8 L579.2 866.7 L580.0 865.8 L580.5 866.5 L581.8 863.2 L583.1 867.6 L584.4 864.3 L585.7 863.5 L587.0 865.6 L588.3 864.0 L589.6 865.4 L590.9 863.5 L592.2 863.1 L593.5 859.8 L594.8 864.9 L596.1 862.8 L597.4 862.2 L598.7 861.7 L600.0 862.9 L601.3 859.5 L602.6 863.0 L603.9 860.9 L605.2 860.4 L606.5 862.8 L607.8 862.2 L609.1 864.6 L610.4 862.9 L611.7 860.0 L613.0 860.7 L614.3 863.4 L615.6 862.4 L616.9 861.8 L618.2 861.3 L619.5 863.2 L620.8 860.9 L622.1 862.1 L623.4 863.6 L624.7 861.8 L626.0 860.5 L627.3 860.0 L628.6 861.1 L629.9 863.1 L631.2 858.8 L632.5 863.1 L633.8 857.9 L635.1 860.5 L636.4 860.9 L637.7 858.7 L639.0 860.8 L640.3 858.2 L641.6 862.2 L642.9 861.8 L644.2 859.5 L645.5 861.7 L646.8 860.3 L648.1 858.4 L649.4 864.1 L650.7 861.1 L652.0 862.4 L653.3 861.2 L654.6 861.2 L655.9 863.7 L657.2 857.7 L658.5 861.0 L659.8 859.4 L661.1 859.9 L662.4 860.7 L663.7 858.1 L665.0 857.9 L666.3 858.0 L667.6 860.0 L668.9 859.8 L670.2 859.6 L671.5 860.7 L672.8 857.1 L674.1 860.5 L675.4 858.8 L676.7 858.1 L678.0 857.5 L679.3 860.0 L680.6 856.8 L681.9 858.5 L683.2 856.9 L684.5 861.2 L685.8 857.1 L687.1 857.8 L688.4 857.9 L689.7 857.8 L691.0 858.1 L692.3 855.1 L693.6 856.6 L694.9 858.0 L696.2 857.9 L697.5 854.4 L698.8 856.8 L700.1 854.6 L701.4 852.6 L702.7 856.1 L704.0 853.9 L705.3 858.0 L706.6 855.7 L707.9 857.4 L709.2 855.2 L710.5 858.5 L711.8 854.6 L713.1 858.7 L714.4 858.8 L715.7 854.8 L717.0 858.9 L718.3 857.9 L719.6 855.6 L720.9 858.0 L722.2 855.2 L723.5 854.9 L724.8 852.4 L726.1 854.2 L727.4 852.5 L728.7 857.0 L730.0 853.1 L731.3 853.2 L732.6 850.7 L733.9 855.1 L735.2 849.3 L736.5 854.9 L737.8 852.6 L739.1 852.0 L740.4 851.2 L741.7 852.5 L743.0 850.3 L744.3 854.0 L745.6 854.3 L746.9 853.1 L748.2 853.8 L749.5 851.0 L750.8 853.4 L752.1 850.5 L753.4 852.1 L754.7 852.8 L756.0 854.3 L757.3 850.0 L758.6 850.9 L759.9 847.2 L761.2 850.9 L762.5 847.5 L763.8 847.5 L765.1 847.1 L766.4 849.4 L767.7 847.6 L769.0 849.6 L770.3 847.4 L771.6 848.4 L772.9 850.1 L774.2 848.4 L775.5 848.8 L776.8 849.6 L778.1 847.4 L779.4 846.3 L780.7 846.8 L782.0 845.3 L783.3 848.4 L784.6 846.0 L785.9 847.9 L787.2 847.3 L788.5 844.5 L789.8 846.3 L791.1 846.5 L792.4 843.8 L793.7 845.2 L795.0 842.3 L796.3 841.6 L797.6 842.3 L798.9 839.3 L800.0 844.0 L800.2 840.5 L801.5 844.5 L802.8 839.6 L804.1 843.6 L805.4 842.9 L806.7 842.8 L808.0 844.1 L809.3 842.3 L810.6 842.7 L811.9 842.4 L813.2 844.0 L814.5 843.3 L815.8 845.4 L817.1 844.0 L818.4 844.3 L819.7 844.3 L821.0 842.8 L822.3 845.7 L823.6 846.0 L824.9 843.4 L825.0 845.9 L826.2 845.9 L827.5 842.2 L828.8 842.2 L830.1 838.2 L831.4 839.6 L832.7 835.7 L834.0 834.7 L835.0 832.2 L835.3 833.6 L836.6 834.3 L837.9 837.6 L839.2 840.1 L840.5 843.1 L841.8 842.9 L843.1 845.4 L844.4 847.5 L845.7 843.4 L847.0 846.5 L848.3 849.8 L849.6 850.8 L850.9 850.3 L852.2 853.2 L853.5 852.7 L854.0 853.2 L854.8 854.3 L856.1 850.8 L857.4 853.8 L858.7 851.9 L860.0 851.0 L861.3 852.7 L862.6 849.1 L863.9 849.8 L865.2 853.0 L866.5 848.4 L867.8 853.5 L869.1 851.0 L870.4 849.5 L871.7 849.4 L873.0 847.4 L874.3 851.1 L875.6 847.5 L876.9 853.0 L878.2 847.2 L879.5 851.2 L880.8 847.1 L882.1 850.5 L883.4 851.7 L884.7 848.6 L886.0 849.1 L887.3 849.4 L888.6 850.5 L889.9 850.8 L891.2 848.9 L892.5 846.8 L893.8 850.9 L895.1 850.3 L896.4 852.2 L897.7 848.3 L899.0 849.4 L900.3 847.7 L901.6 849.9 L902.9 850.3 L904.2 845.7 L905.5 848.6 L906.8 845.6 L908.1 846.8 L909.4 846.8 L910.7 847.5 L912.0 845.0 L913.3 846.4 L914.6 848.2 L915.9 846.1 L917.2 846.9 L918.5 846.0 L919.8 845.3 L921.1 846.3 L922.4 845.9 L923.7 845.1 L925.0 846.7 L926.3 844.5 L927.6 846.5 L928.9 844.3 L930.2 846.0 L931.5 843.2 L932.8 844.2 L934.1 842.8 L935.4 846.7 L936.7 844.2 L938.0 844.5 L939.3 844.8 L940.6 842.5 L941.9 844.6 L943.2 842.8 L944.5 841.3 L945.8 844.1 L947.1 842.1 L948.4 846.1 L949.7 841.4 L951.0 843.2 L952.3 844.8 L953.6 842.7 L954.9 841.4 L956.2 844.1 L957.5 841.6 L958.8 845.9 L960.1 840.4 L961.4 842.7 L962.7 840.0 L964.0 842.8 L965.3 845.6 L966.6 841.6 L967.9 841.6 L969.2 843.4 L970.5 841.8 L971.8 842.7 L973.1 845.3 L974.4 844.3 L975.7 843.9 L977.0 844.0 L978.3 840.0 L979.6 839.7 L980.9 843.7 L982.2 841.6 L983.5 841.6 L984.8 841.1 L986.1 842.2 L987.4 841.3 L988.7 840.9 L990.0 841.1 L991.3 839.6 L992.6 839.6 L993.9 841.9 L995.2 838.3 L996.5 842.1 L997.8 838.9 L999.1 838.8 L1000.4 840.1 L1001.7 837.0 L1003.0 838.3 L1004.3 837.4 L1005.6 838.0 L1006.9 838.6 L1008.2 840.3 L1009.5 837.2 L1010.8 835.7 L1012.1 836.4 L1013.4 834.5 L1014.7 838.7 L1016.0 837.3 L1017.3 836.8 L1018.6 836.8 L1019.9 836.9 L1021.2 836.6 L1022.5 836.9 L1023.8 836.0 L1025.1 834.3 L1026.4 837.6 L1027.7 836.9 L1029.0 832.6 L1030.3 836.1 L1031.6 833.4 L1032.9 836.7 L1034.2 834.2 L1035.5 837.5 L1036.8 835.8 L1038.1 834.0 L1039.4 834.5 L1040.7 834.1 L1042.0 835.8 L1043.3 832.9 L1044.6 835.9 L1045.9 832.0 L1047.2 836.9 L1048.5 834.2 L1049.8 832.6 L1051.1 833.6 L1052.4 834.5 L1053.7 834.3 L1055.0 831.0 L1056.3 835.1 L1057.6 835.4 L1058.9 832.1 L1060.2 831.5 L1061.5 835.1 L1062.8 832.0 L1064.1 832.6 L1065.4 832.6 L1066.7 829.6 L1068.0 831.3 L1069.3 829.9 L1070.6 830.9 L1071.9 832.8 L1073.2 832.2 L1074.5 837.3 L1075.2 834.2 L1075.8 835.8 L1077.1 831.3 L1078.4 834.4 L1079.7 832.6 L1081.0 832.7 L1082.3 832.1 L1083.6 829.5 L1084.9 829.5 L1086.2 831.8 L1087.5 832.7 L1088.8 832.0 L1090.1 828.6 L1091.4 828.9 L1092.7 830.2 L1094.0 830.1 L1095.3 832.0 L1096.6 828.3 L1097.9 828.8 L1099.2 831.2 L1100.5 827.7 L1101.8 828.7 L1103.1 830.4 L1104.4 828.7 L1105.7 828.0 L1107.0 829.4 L1108.3 828.6 L1109.6 829.1 L1110.9 828.1 L1112.2 830.4 L1113.5 828.1 L1114.8 828.5 L1116.1 830.7 L1117.4 826.9 L1118.7 830.6 L1120.0 828.8 L1121.3 827.7 L1122.6 828.1 L1123.9 824.5 L1125.2 827.3 L1126.5 823.5 L1127.8 824.1 L1129.1 824.8 L1130.4 822.6 L1131.5 824.4 L1131.7 824.2 L1133.0 826.7 L1134.3 827.4 L1135.2 829.5 L1135.6 826.4 L1136.9 828.0 L1138.2 828.9 L1139.5 829.3 L1140.8 828.0 L1142.1 826.9 L1143.4 826.4 L1144.7 826.6 L1146.0 829.5 L1147.3 825.2 L1148.6 827.6 L1149.9 827.9 L1151.2 827.3 L1152.5 825.6 L1153.8 829.5 L1155.1 825.7 L1156.4 826.9 L1157.7 827.0 L1159.0 825.1 L1160.3 827.0 L1161.6 824.9 L1162.9 824.3 L1164.2 824.1 L1165.5 825.9 L1166.8 824.6 L1168.1 824.4 L1169.4 823.8 L1170.7 824.1 L1172.0 825.2 L1173.3 824.9 L1174.6 822.7 L1175.9 823.8 L1177.2 820.0 L1178.5 821.9 L1179.8 821.4 L1181.1 820.8 L1182.4 822.9 L1183.7 818.3 L1185.0 822.6 L1186.3 820.9 L1187.6 823.1 L1188.9 818.2 L1190.2 821.0 L1191.5 821.2 L1192.8 820.0 L1194.1 817.4 L1195.4 819.0 L1196.7 817.1 L1198.0 819.5 L1199.0 819.5 L1199.3 820.5 L1200.6 819.6 L1201.9 821.5 L1203.2 822.2 L1204.0 819.7 L1204.5 822.8 L1205.8 822.1 L1207.1 820.6 L1208.4 819.8 L1209.7 821.6 L1211.0 820.8 L1212.3 821.6 L1213.6 817.5 L1214.9 820.6 L1216.2 822.7 L1217.5 820.5 L1218.8 818.8 L1220.1 818.9 L1221.4 818.5 L1222.7 817.2 L1224.0 818.0 L1225.3 818.0 L1226.6 815.9 L1227.9 817.9 L1229.2 817.3 L1230.5 814.9 L1231.8 816.6 L1233.1 814.1 L1234.4 817.0 L1235.7 816.0 L1237.0 815.0 L1238.3 815.9 L1239.6 816.0 L1240.9 815.9 L1242.2 812.7 L1243.5 815.0 L1244.8 812.3 L1246.1 812.3 L1247.4 816.2 L1248.7 814.2 L1250.0 815.4 L1251.3 813.9 L1252.6 812.3 L1253.9 813.6 L1255.2 811.8 L1256.5 815.0 L1257.8 809.6 L1259.1 813.9 L1260.4 810.7 L1261.7 813.5 L1263.0 813.0 L1264.3 810.3 L1265.6 814.0 L1266.9 812.1 L1268.2 808.8 L1269.5 814.1 L1270.8 808.4 L1272.1 810.0 L1273.4 812.7 L1274.7 809.3 L1276.0 811.8 L1277.3 810.4 L1278.6 809.4 L1279.9 813.5 L1281.2 811.9 L1282.5 810.4 L1283.8 813.0 L1285.1 809.7 L1286.4 811.2 L1287.7 809.8 L1289.0 808.7 L1290.3 810.4 L1291.6 808.8 L1292.9 811.2 L1294.2 809.8 L1295.5 809.0 L1296.8 811.5 L1298.1 808.7 L1299.4 811.0 L1300.7 806.2 L1302.0 807.1 L1303.3 805.4 L1304.6 806.7 L1305.9 805.0 L1307.2 805.4 L1308.5 807.5 L1309.0 805.3 L1309.8 804.3 L1311.1 807.6 L1312.4 807.8 L1313.7 810.1 L1315.0 811.0 L1315.2 811.4 L1316.3 812.1 L1317.6 812.4 L1318.9 810.7 L1320.2 809.9 L1321.5 811.2 L1322.8 810.2 L1324.1 810.2 L1325.4 808.6 L1326.7 810.4 L1328.0 807.0 L1329.3 812.4 L1330.6 809.4 L1331.9 810.2 L1333.2 807.1 L1334.5 809.6 L1335.8 810.0 L1337.1 807.4 L1338.4 806.7 L1339.7 808.0 L1341.0 804.6 L1342.3 809.6 L1343.6 806.7 L1344.9 804.7 L1346.2 808.1 L1347.5 807.2 L1348.8 806.4 L1350.1 806.4 L1351.4 807.3 L1352.7 804.7 L1354.0 807.1 L1355.3 803.6 L1356.6 803.9 L1357.9 804.1 L1359.2 802.7 L1360.5 805.0 L1361.8 802.3 L1363.1 804.6 L1364.4 803.4 L1365.7 805.5 L1367.0 804.7 L1368.3 801.4 L1369.6 802.8 L1370.9 802.1 L1372.2 801.5 L1373.5 805.0 L1374.8 802.7 L1376.1 801.2 L1377.4 799.9 L1378.7 801.3 L1380.0 801.6 L1381.3 803.6 L1382.6 798.7 L1383.9 804.2 L1385.2 798.4 L1386.5 802.8 L1387.8 799.7 L1389.1 802.1 L1390.4 798.8 L1391.7 803.2 L1393.0 800.2 L1394.3 799.0 L1395.6 797.1 L1396.9 799.9 L1398.2 798.3 L1399.5 796.1 L1400.8 799.2 L1402.1 796.9 L1403.0 796.1 L1403.4 796.8 L1404.7 794.7 L1406.0 799.7 L1407.3 798.5 L1408.6 797.4 L1409.9 796.5 L1411.2 797.3 L1412.5 798.5 L1413.8 797.6 L1415.1 799.9 L1416.4 797.6 L1417.7 801.2 L1419.0 800.5 L1420.3 798.2 L1421.6 798.6 L1422.9 796.0 L1424.2 799.3 L1425.5 797.7 L1426.8 795.4 L1428.1 798.5 L1429.4 794.5 L1430.7 795.2 L1432.0 798.2 L1433.3 797.0 L1434.6 794.4 L1435.9 797.4 L1436.8 795.6 L1437.2 797.7 L1438.5 795.8 L1439.8 792.4 L1441.1 791.3 L1442.2 790.2 L1442.4 789.8 L1443.7 791.1 L1445.0 794.6 L1446.3 799.2 L1447.6 803.4 L1448.9 807.8 L1450.2 812.3 L1451.5 812.2 L1452.8 814.2 L1454.1 817.0 L1455.4 814.8 L1456.7 816.9 L1456.8 816.1 L1458.0 799.3 L1459.3 758.0 L1460.5 713.8 L1460.6 713.9 L1461.9 745.4 L1463.2 779.8 L1464.5 803.4 L1465.8 813.2 L1467.1 819.4 L1468.4 815.7 L1469.7 817.8 L1471.0 817.8 L1472.3 817.8 L1473.6 818.1 L1474.9 817.8 L1476.2 821.5 L1477.5 815.8 L1478.8 818.7 L1480.1 817.6 L1481.4 819.4 L1482.7 816.6 L1484.0 819.4 L1485.3 818.4 L1486.6 820.9 L1487.9 817.5 L1489.2 817.0 L1490.5 816.7 L1491.8 818.6 L1493.1 814.5 L1494.4 814.6 L1495.7 814.3 L1497.0 814.5 L1498.3 816.1 L1499.6 812.7 L1500.9 814.3 L1502.2 814.5 L1503.5 813.0 L1504.8 815.7 L1506.1 813.2 L1507.4 815.2 L1508.7 814.4 L1510.0 816.0 L1511.3 815.7 L1512.6 811.9 L1513.9 812.4 L1515.2 812.2 L1516.5 814.4 L1517.8 813.4 L1519.1 812.7 L1520.4 812.6 L1521.7 814.5 L1523.0 812.6 L1524.3 811.9 L1525.6 812.3 L1526.9 808.7 L1528.2 813.4 L1529.5 812.6 L1530.8 809.7 L1532.1 809.5 L1533.4 811.6 L1534.7 808.0 L1536.0 809.8 L1537.3 809.5 L1538.6 808.2 L1539.9 809.6 L1541.2 805.3 L1542.5 805.4 L1543.8 809.6 L1545.1 807.5 L1546.4 807.5 L1547.7 806.3 L1549.0 807.0 L1550.3 807.0 L1551.6 804.4 L1552.9 807.0 L1554.2 804.3 L1555.5 808.4 L1556.8 804.8 L1558.1 805.7 L1559.4 806.1 L1560.7 805.6 L1562.0 805.5 L1563.3 803.0 L1564.6 804.8 L1565.9 805.0 L1567.2 803.8 L1568.5 803.9 L1569.8 802.7 L1571.1 804.0 L1572.4 805.1 L1573.7 800.9 L1575.0 802.0 L1576.3 801.7 L1577.6 801.1 L1578.9 805.3 L1580.2 804.6 L1581.5 802.7 L1582.8 802.6 L1584.1 804.4 L1585.4 803.2 L1586.7 799.4 L1588.0 803.1 L1589.3 805.0 L1590.6 800.4 L1591.9 801.4 L1593.2 801.1 L1594.5 804.3 L1595.8 800.1 L1597.1 802.7 L1598.4 802.8 L1599.7 801.1 L1601.0 801.3 L1602.3 799.6 L1603.6 799.7 L1604.9 802.9 L1606.2 798.2 L1607.5 803.1 L1608.8 801.5 L1610.1 802.2 L1611.4 799.4 L1612.7 799.3 L1614.0 800.5 L1615.3 801.6 L1616.6 800.0 L1617.9 800.3 L1619.2 799.1 L1620.5 800.8 L1621.8 796.3 L1623.1 798.4 L1624.4 801.4 L1625.7 798.5 L1627.0 799.6 L1628.3 795.4 L1629.6 797.9 L1630.9 797.3 L1632.2 797.6 L1633.5 798.9 L1634.8 795.6 L1636.1 797.4 L1637.4 795.2 L1638.7 796.3 L1640.0 796.5 L1641.3 796.2 L1642.6 796.9 L1643.9 793.3 L1645.2 797.4 L1646.5 795.6 L1647.8 794.9 L1649.1 798.9 L1650.4 795.5 L1651.7 797.8 L1653.0 798.7 L1654.3 799.9 L1655.6 797.0 L1656.9 800.8 L1658.2 798.0 L1659.5 797.4 L1660.8 799.8 L1662.1 798.0 L1663.4 797.6 L1664.7 798.6 L1666.0 800.3 L1667.3 798.5 L1668.6 798.3 L1669.9 800.0 L1671.2 796.4 L1672.5 800.7 L1673.8 800.4 L1675.1 797.2 L1676.4 798.7 L1677.7 798.9 L1679.0 800.1 L1680.3 799.3 L1681.6 801.1 L1682.9 799.6 L1684.2 802.5 L1685.5 802.5 L1686.8 803.1 L1688.1 802.6 L1689.4 806.2 L1690.7 803.2 L1692.0 807.2 L1693.3 808.3 L1694.6 811.3 L1695.9 809.0 L1697.2 812.3 L1698.5 813.6 L1699.8 814.6 L1701.1 814.8 L1702.4 811.8 L1703.7 814.7 L1704.2 813.6 L1705.0 813.6 L1706.3 810.4 L1707.6 805.8 L1708.9 801.2 L1710.2 795.5 L1711.5 790.0 L1712.8 784.0 L1713.8 782.3 L1714.1 783.7 L1715.4 789.1 L1716.7 799.9 L1718.0 810.3 L1719.3 818.3 L1720.6 826.7 L1721.9 833.4 L1723.2 838.4 L1724.5 841.1 L1725.8 844.6 L1727.1 846.3 L1728.4 847.7 L1729.7 848.4 L1730.0 849.1 L1731.0 848.1 L1732.3 843.4 L1733.6 838.9 L1734.9 829.0 L1736.2 811.4 L1737.5 797.6 L1738.8 788.1 L1739.2 787.4 L1740.1 791.4 L1741.4 806.2 L1742.7 820.6 L1744.0 836.5 L1745.3 849.6 L1746.6 854.9 L1747.9 861.1 L1749.2 865.2 L1750.5 868.4 L1751.8 867.0 L1753.1 868.5 L1754.4 871.7 L1755.7 871.8 L1757.0 872.7 L1758.0 872.7 L1758.3 869.6 L1759.6 874.2 L1760.9 870.6 L1762.2 874.0 L1763.5 869.1 L1764.8 867.6 L1766.1 870.4 L1767.4 869.3 L1768.7 869.4 L1770.0 868.9 L1771.3 868.0 L1772.6 866.7 L1773.9 869.2 L1775.2 868.1 L1776.5 868.0 L1777.8 869.1 L1779.1 868.2 L1780.4 866.1 L1781.7 868.7 L1783.0 868.3 L1784.3 870.0 L1785.6 873.1 L1786.9 870.8 L1788.2 873.6 L1789.5 870.4 L1790.8 876.6 L1792.1 872.7 L1793.4 876.4 L1794.7 873.5 L1796.0 876.7 L1797.3 877.4 L1798.6 876.5 L1799.9 877.4 L1800.5 876.5 L1801.2 876.7 L1802.5 875.6 L1803.8 872.6 L1805.1 869.0 L1806.4 858.3 L1807.7 835.4 L1809.0 806.2 L1809.5 800.5 L1810.3 814.0 L1811.6 850.3 L1812.9 874.7 L1814.2 878.4 L1815.5 878.3 L1816.8 880.3 L1816.8 877.9 L1818.1 877.6 L1819.4 876.2 L1820.7 880.3 L1822.0 877.7 L1823.3 876.9 L1824.6 878.1 L1825.9 875.0 L1827.2 878.6 L1828.5 876.8 L1829.8 877.1 L1831.1 874.3 L1832.4 877.5 L1833.7 875.2 L1835.0 876.9 L1836.3 871.6 L1837.6 876.7 L1838.9 875.2 L1840.2 873.3 L1841.5 875.5 L1842.8 873.4 L1844.1 875.8 L1845.4 872.4 L1846.7 873.8 L1848.0 871.4 L1849.3 876.0 L1850.6 870.8 L1851.9 872.2 L1853.2 871.8 L1854.5 873.2 L1855.8 872.6 L1857.1 873.2 L1858.4 874.5 L1859.7 873.1 L1861.0 870.1 L1862.3 873.4 L1863.6 871.6 L1864.9 873.4 L1866.2 871.8 L1867.5 874.0 L1868.8 871.4 L1870.1 874.7 L1871.4 869.3 L1872.7 874.1 L1874.0 871.9 L1875.3 870.1 L1876.6 869.6 L1877.9 870.5 L1879.2 871.3 L1880.5 872.4 L1881.8 867.1 L1883.1 869.9 L1884.4 867.9 L1885.7 867.1 L1887.0 862.7 L1888.3 859.1 L1889.6 854.5 L1890.0 853.8 L1890.9 856.7 L1892.2 862.8 L1893.5 866.5 L1894.8 869.5 L1896.1 870.6 L1897.4 873.6 L1898.7 871.4 L1900.0 872.7 L1901.3 872.0 L1902.6 871.5 L1903.9 869.1 L1905.2 871.8 L1906.5 870.1 L1907.8 868.9 L1909.1 866.9 L1910.4 869.1 L1911.7 867.5 L1913.0 867.2 L1914.3 867.8 L1915.6 866.5 L1916.9 867.6 L1918.2 867.4 L1919.5 865.0 L1920.8 866.8 L1922.1 865.8 L1923.4 867.7 L1924.7 863.9 L1926.0 868.2 L1927.3 866.2 L1928.6 866.5 L1929.9 867.0 L1931.2 863.9 L1932.5 867.0 L1933.8 864.1 L1935.1 864.8 L1936.4 866.9 L1937.7 863.3 L1939.0 866.1 L1940.3 863.3 L1941.6 863.6 L1942.9 863.1 L1944.2 861.5 L1945.5 863.4 L1946.8 863.2 L1948.1 864.8 L1949.4 863.2 L1950.7 863.7 L1952.0 861.0 L1953.3 862.2 L1954.6 863.4 L1955.9 863.2 L1957.2 861.1 L1958.5 864.9 L1959.8 861.3 L1961.1 863.9 L1962.4 862.0 L1963.7 864.5 L1965.0 864.0 L1966.3 864.6 L1967.6 862.0 L1968.9 864.8 L1970.2 867.2 L1971.5 863.5 L1972.8 865.7 L1973.7 864.5 L1974.1 864.0 L1975.4 859.0 L1976.7 851.3 L1978.0 842.8 L1979.3 837.9 L1979.6 837.9 L1980.6 842.4 L1981.9 855.2 L1983.2 862.0 L1984.5 866.6 L1985.6 866.3 L1985.8 867.5 L1987.1 870.0 L1988.4 864.6 L1989.7 865.0 L1991.0 861.4 L1992.3 855.7 L1993.6 847.7 L1994.0 848.5 L1994.9 850.4 L1996.2 858.0 L1997.5 861.8 L1998.8 864.9 L2000.1 867.1 L2001.4 868.2 L2001.5 867.2 L2002.7 868.5 L2004.0 866.6 L2005.3 868.3 L2006.6 867.0 L2007.9 867.7 L2009.2 867.1 L2010.5 868.1 L2011.8 867.0 L2013.1 864.8 L2014.4 864.5 L2015.7 865.9 L2017.0 867.9 L2018.3 864.5 L2019.6 866.7 L2020.9 870.2 L2022.2 866.1 L2023.5 868.0 L2024.8 868.3 L2026.1 868.9 L2027.4 867.4 L2028.7 869.1 L2030.0 865.9 L2031.3 870.5 L2032.6 869.6 L2033.9 867.0 L2035.2 872.2 L2036.5 872.3 L2037.8 867.9 L2039.1 872.0 L2040.4 873.5 L2041.7 872.5 L2043.0 871.3 L2044.3 872.2 L2045.6 872.6 L2046.9 874.1 L2047.3 871.4 L2048.2 872.4 L2049.5 870.4 L2050.8 867.1 L2052.1 865.8 L2053.3 863.3 L2053.4 864.4 L2054.7 865.5 L2056.0 868.2 L2057.3 870.5 L2058.6 869.7 L2059.9 875.0 L2061.2 872.1 L2061.3 874.1 L2062.5 869.9 L2063.8 865.6 L2064.6 863.0 L2065.1 865.1 L2066.4 880.3 L2067.7 888.8 L2069.0 893.9 L2070.3 897.7 L2071.6 900.2 L2072.9 905.0 L2074.2 906.3 L2075.5 910.3 L2076.8 912.0 L2078.1 916.8 L2079.4 919.1 L2080.7 920.2 L2080.8 919.1 L2082.0 918.9 L2083.3 916.3 L2084.6 901.7 L2085.9 828.9 L2087.1 761.3 L2087.2 761.4 L2088.5 849.9 L2089.5 899.2 L2089.8 888.8 L2091.1 771.4 L2092.3 693.3 L2092.4 693.1 L2093.7 815.4 L2095.0 903.0 L2096.3 937.1 L2097.6 949.7 L2098.9 954.3 L2099.1 954.9 L2100.2 952.9 L2101.5 955.9 L2102.8 954.4 L2104.1 953.9 L2105.4 954.4 L2106.7 954.3 L2108.0 954.6 L2109.3 955.8 L2110.6 956.5 L2111.9 953.3 L2113.2 958.4 L2114.5 959.1 L2115.8 956.6 L2117.1 959.7 L2118.4 962.5 L2119.0 957.7 L2119.7 961.7 L2121.0 959.0 L2122.3 957.2 L2123.6 959.0 L2124.9 955.4 L2126.2 957.9 L2127.5 956.8 L2128.8 954.1 L2129.9 952.9 L2130.1 951.8 L2131.4 955.1 L2132.7 957.4 L2134.0 958.3 L2135.3 959.9 L2136.6 959.9 L2137.9 961.2 L2139.2 960.0 L2140.5 964.9 L2141.8 960.3 L2143.1 962.8 L2144.4 962.7 L2145.7 962.9 L2147.0 966.0 L2148.3 962.9 L2149.6 964.0 L2150.9 963.8 L2152.2 964.4 L2153.5 966.2 L2154.8 965.9 L2156.1 963.3 L2157.4 967.4 L2158.7 964.4 L2160.0 965.1 L2161.3 966.3 L2162.6 964.2 L2163.9 965.2 L2165.2 964.3 L2166.5 962.3 L2167.8 962.3 L2169.1 962.2 L2170.4 961.8 L2171.7 961.9 L2173.0 961.6 L2173.7 964.0 L2174.3 961.6 L2175.6 963.9 L2176.9 963.2 L2178.2 962.7 L2179.5 964.8 L2180.8 963.4 L2182.1 964.6 L2183.4 968.0 L2184.7 967.0 L2186.0 968.3 L2187.3 969.9 L2188.6 966.7 L2189.9 970.2 L2191.2 967.2 L2192.5 970.1 L2193.8 971.5 L2194.6 968.0 L2195.1 969.4 L2196.4 968.9 L2197.7 967.2 L2199.0 957.8 L2200.3 952.9 L2201.6 952.0 L2202.9 949.6 L2204.2 949.2 L2205.5 949.6 L2206.8 953.6 L2208.1 963.9 L2209.4 971.3 L2210.6 976.2" stroke="#0433FF" stroke-width="2.8"/>
<path d="M314.0 1416.4 L315.3 1418.1 L316.6 1414.8 L317.9 1418.8 L319.2 1415.9 L320.5 1417.2 L321.8 1419.9 L323.1 1416.7 L324.4 1417.7 L325.7 1418.4 L327.0 1418.5 L328.3 1416.6 L329.6 1417.8 L330.9 1414.9 L332.2 1416.4 L333.5 1415.6 L333.8 1414.7 L334.8 1415.0 L336.1 1415.6 L337.4 1418.8 L338.7 1419.6 L340.0 1421.0 L341.3 1422.7 L342.6 1421.8 L343.9 1425.5 L345.2 1426.3 L346.5 1428.1 L347.8 1426.4 L348.8 1428.0 L349.1 1425.3 L350.4 1427.7 L351.7 1423.7 L353.0 1424.4 L354.3 1426.4 L355.6 1421.8 L356.9 1426.5 L358.2 1424.3 L359.5 1424.3 L360.8 1425.4 L362.1 1425.3 L363.4 1426.2 L364.7 1424.3 L366.0 1424.6 L367.3 1424.7 L368.6 1424.3 L369.9 1425.9 L371.2 1424.6 L372.5 1427.8 L373.8 1423.4 L375.1 1425.7 L376.4 1425.4 L377.7 1424.3 L379.0 1429.7 L380.3 1424.7 L381.6 1428.2 L382.9 1427.1 L384.2 1430.8 L385.5 1425.8 L386.8 1431.1 L388.1 1427.0 L389.4 1429.3 L390.7 1427.9 L392.0 1430.3 L393.3 1427.1 L394.6 1429.7 L395.9 1429.5 L397.2 1431.6 L398.5 1426.5 L399.8 1431.9 L401.1 1429.5 L402.4 1428.3 L403.7 1429.5 L405.0 1427.6 L406.3 1430.6 L407.6 1427.2 L408.9 1427.4 L410.2 1426.9 L411.5 1426.9 L412.8 1426.8 L414.1 1425.9 L415.4 1429.8 L416.7 1424.4 L418.0 1424.5 L419.3 1428.1 L420.6 1427.0 L421.9 1428.2 L423.2 1427.2 L424.5 1427.7 L425.8 1428.3 L427.1 1429.1 L428.4 1427.0 L429.7 1427.8 L431.0 1430.7 L432.3 1427.8 L433.6 1426.7 L434.9 1430.7 L436.2 1428.1 L437.5 1427.2 L438.8 1426.7 L440.1 1428.9 L441.4 1426.6 L442.7 1427.1 L444.0 1426.6 L445.3 1427.8 L446.6 1429.3 L447.9 1426.0 L449.2 1424.8 L450.5 1427.0 L451.8 1424.4 L453.1 1425.4 L454.4 1425.0 L455.7 1423.1 L457.0 1423.8 L458.3 1423.7 L459.6 1422.2 L460.9 1425.2 L462.2 1425.1 L463.5 1423.5 L464.8 1423.5 L466.1 1423.5 L467.4 1422.8 L468.7 1423.0 L470.0 1423.5 L471.3 1422.6 L472.6 1423.2 L473.9 1421.1 L475.2 1424.0 L476.5 1422.0 L477.8 1420.5 L479.1 1418.9 L480.4 1422.0 L481.7 1421.8 L483.0 1418.7 L484.3 1419.4 L485.6 1418.3 L486.9 1419.7 L488.2 1416.7 L489.2 1420.2 L489.5 1417.2 L490.8 1420.2 L492.1 1418.7 L493.4 1420.0 L494.7 1419.2 L496.0 1422.0 L497.3 1423.4 L498.6 1426.8 L499.9 1428.1 L501.2 1429.2 L502.5 1432.1 L503.8 1432.8 L505.1 1431.7 L506.4 1432.3 L507.7 1432.7 L509.0 1434.7 L510.3 1434.0 L511.6 1432.6 L512.9 1435.2 L514.2 1433.3 L515.5 1433.8 L516.8 1436.4 L518.1 1434.9 L519.4 1433.3 L520.7 1434.9 L522.0 1434.8 L523.3 1433.1 L524.6 1434.2 L525.9 1434.6 L527.2 1430.9 L528.5 1434.8 L529.8 1433.7 L531.1 1433.5 L532.4 1430.9 L533.7 1433.8 L535.0 1430.9 L536.3 1433.6 L537.6 1432.5 L538.9 1432.1 L540.2 1430.6 L541.5 1431.1 L542.8 1432.6 L544.1 1429.4 L545.4 1432.1 L546.7 1430.9 L548.0 1430.1 L549.3 1433.1 L550.6 1429.4 L551.9 1432.8 L553.2 1427.3 L554.5 1427.9 L555.8 1432.1 L557.1 1430.4 L558.4 1430.1 L559.7 1431.0 L561.0 1428.7 L562.3 1431.7 L563.6 1430.5 L564.9 1432.2 L566.2 1433.1 L567.5 1431.5 L568.8 1432.3 L570.1 1430.3 L571.4 1431.1 L572.7 1431.2 L574.0 1430.2 L575.3 1432.3 L576.6 1428.3 L577.9 1432.6 L579.2 1427.4 L580.5 1431.7 L581.8 1427.4 L583.1 1431.8 L584.4 1428.2 L585.7 1429.6 L587.0 1429.3 L588.3 1427.3 L589.6 1427.3 L590.9 1425.8 L592.2 1430.5 L593.5 1426.0 L594.8 1427.5 L596.1 1427.5 L597.4 1430.0 L598.7 1424.5 L600.0 1428.3 L601.3 1425.8 L602.6 1427.7 L603.9 1423.7 L605.2 1426.5 L606.5 1426.9 L607.8 1427.4 L609.1 1426.9 L610.4 1423.4 L611.7 1425.5 L613.0 1424.3 L614.3 1422.7 L615.6 1422.9 L616.9 1425.5 L618.2 1423.7 L619.5 1423.7 L620.8 1425.4 L622.1 1421.7 L623.4 1425.0 L624.7 1423.0 L626.0 1423.6 L627.3 1424.1 L628.6 1423.4 L629.9 1423.7 L631.2 1423.5 L632.5 1425.8 L633.8 1421.9 L635.1 1425.0 L636.4 1423.3 L637.7 1422.4 L639.0 1424.1 L640.3 1421.0 L641.6 1424.4 L642.9 1420.1 L644.2 1421.6 L645.5 1421.7 L646.8 1421.8 L648.1 1421.4 L649.4 1421.2 L650.7 1419.5 L652.0 1418.9 L653.3 1421.2 L654.6 1420.3 L655.9 1419.5 L657.2 1423.0 L658.5 1421.5 L659.8 1421.2 L661.1 1423.8 L662.4 1420.9 L663.7 1422.7 L665.0 1423.9 L666.3 1420.9 L667.6 1424.2 L668.9 1421.3 L670.2 1425.2 L671.5 1422.0 L672.8 1424.4 L674.1 1421.3 L675.4 1424.0 L676.7 1424.9 L678.0 1424.0 L679.3 1421.2 L680.6 1425.9 L681.9 1424.1 L683.2 1422.8 L684.5 1425.4 L685.8 1420.7 L687.1 1423.2 L688.4 1423.4 L689.7 1423.0 L691.0 1422.5 L692.3 1418.9 L693.6 1418.7 L694.9 1421.1 L696.2 1417.3 L697.5 1419.9 L698.8 1417.0 L700.1 1420.9 L701.4 1418.9 L702.7 1419.0 L704.0 1418.1 L705.3 1418.2 L706.6 1417.5 L707.9 1418.6 L709.2 1417.9 L710.5 1418.3 L711.8 1416.8 L713.1 1420.2 L714.4 1416.8 L715.7 1419.4 L717.0 1418.2 L718.3 1415.5 L719.6 1415.2 L720.9 1419.1 L722.2 1415.3 L723.5 1417.0 L724.8 1415.7 L726.1 1416.4 L727.4 1414.0 L728.7 1415.8 L730.0 1414.1 L731.3 1414.6 L732.6 1411.2 L733.9 1415.4 L735.2 1412.6 L736.5 1410.2 L737.8 1411.8 L739.1 1411.8 L740.4 1412.2 L741.7 1411.0 L742.5 1413.2 L743.0 1410.6 L744.3 1410.7 L745.6 1412.1 L746.9 1414.8 L748.2 1413.2 L749.5 1416.5 L750.0 1415.8 L750.8 1415.5 L752.1 1416.1 L753.4 1414.1 L754.7 1414.8 L756.0 1413.4 L757.3 1413.5 L758.6 1411.7 L759.9 1413.2 L761.2 1411.5 L762.5 1411.1 L763.8 1412.9 L765.1 1412.2 L766.4 1410.9 L767.7 1413.2 L769.0 1411.5 L770.3 1411.9 L771.6 1409.3 L772.9 1408.8 L774.2 1411.5 L775.5 1410.0 L776.8 1410.9 L778.1 1410.0 L779.4 1411.2 L780.7 1408.4 L782.0 1410.4 L783.3 1407.2 L784.6 1405.9 L785.9 1408.4 L787.2 1409.6 L788.5 1404.6 L789.8 1409.2 L791.1 1404.8 L792.4 1406.2 L793.7 1405.9 L795.0 1405.8 L796.3 1403.9 L797.6 1405.8 L798.9 1405.4 L800.0 1406.0 L800.2 1403.6 L801.5 1407.6 L802.8 1406.9 L804.1 1408.1 L805.4 1403.0 L806.7 1407.2 L808.0 1403.7 L809.3 1408.1 L810.6 1407.2 L811.9 1405.6 L813.2 1405.8 L814.5 1408.3 L815.8 1408.1 L817.1 1406.2 L818.4 1407.6 L819.7 1404.7 L821.0 1407.4 L822.3 1407.5 L823.6 1407.4 L824.9 1409.3 L826.2 1404.8 L827.5 1406.9 L828.8 1405.2 L830.1 1400.2 L831.4 1395.9 L832.7 1392.6 L833.2 1392.2 L834.0 1393.0 L835.3 1395.7 L836.6 1398.5 L837.9 1403.5 L839.2 1408.3 L840.5 1406.1 L841.8 1410.8 L843.1 1409.0 L844.4 1409.9 L845.7 1413.2 L847.0 1412.6 L848.3 1412.6 L849.6 1415.6 L850.9 1412.7 L852.2 1415.3 L853.5 1416.8 L854.8 1415.1 L856.1 1414.2 L857.4 1416.5 L858.7 1415.5 L860.0 1417.1 L861.3 1416.0 L862.6 1414.7 L863.9 1414.8 L865.2 1415.2 L866.5 1414.8 L867.8 1417.1 L869.1 1416.4 L870.4 1416.2 L871.7 1414.8 L873.0 1414.2 L874.3 1415.7 L875.6 1413.1 L876.9 1414.4 L878.2 1411.0 L879.5 1413.5 L880.8 1414.7 L882.1 1410.5 L883.4 1410.9 L884.7 1412.2 L886.0 1413.9 L887.3 1412.7 L888.6 1410.4 L889.9 1410.8 L891.2 1411.0 L892.5 1409.6 L893.8 1411.2 L895.1 1410.0 L896.4 1408.7 L897.7 1410.2 L899.0 1410.0 L900.3 1409.1 L901.6 1408.9 L902.9 1411.6 L904.2 1411.8 L905.5 1408.7 L906.8 1409.5 L908.1 1410.3 L909.4 1408.9 L910.7 1408.5 L912.0 1411.5 L913.3 1407.0 L914.6 1408.9 L915.9 1408.2 L917.2 1408.0 L918.5 1408.8 L919.8 1409.5 L921.1 1410.3 L922.4 1408.8 L923.7 1408.3 L925.0 1406.6 L926.3 1408.7 L927.6 1406.6 L928.9 1408.3 L930.2 1409.1 L931.5 1407.6 L932.8 1407.4 L934.1 1406.6 L935.4 1407.8 L936.7 1407.4 L938.0 1406.0 L939.3 1406.9 L940.6 1408.3 L941.9 1404.2 L943.2 1407.1 L944.5 1405.0 L945.8 1409.2 L947.1 1406.3 L948.4 1407.0 L949.7 1406.5 L951.0 1406.3 L952.3 1406.2 L953.6 1403.5 L954.9 1406.7 L956.2 1405.8 L957.5 1403.2 L958.8 1406.9 L960.1 1405.2 L961.4 1402.6 L962.7 1404.7 L964.0 1403.9 L965.3 1403.7 L966.6 1404.8 L967.9 1401.9 L969.2 1404.1 L970.5 1403.7 L971.8 1404.2 L973.1 1402.9 L974.4 1402.7 L975.7 1403.8 L977.0 1399.9 L978.3 1404.6 L979.6 1401.1 L980.9 1400.8 L982.2 1401.8 L983.5 1399.4 L984.8 1399.8 L986.1 1401.7 L987.4 1400.2 L988.7 1402.6 L990.0 1399.4 L991.3 1399.8 L992.6 1399.9 L993.9 1403.3 L995.2 1399.6 L996.5 1399.9 L997.8 1399.1 L999.1 1399.0 L1000.4 1400.1 L1001.7 1400.4 L1003.0 1401.1 L1004.3 1400.6 L1005.6 1399.4 L1006.9 1398.4 L1008.2 1398.4 L1009.5 1396.4 L1010.8 1398.6 L1012.1 1399.6 L1013.4 1398.1 L1014.7 1399.4 L1016.0 1396.5 L1017.3 1400.5 L1018.6 1398.2 L1019.9 1398.5 L1021.2 1398.8 L1022.5 1395.5 L1023.8 1398.3 L1025.1 1396.8 L1026.4 1400.7 L1027.7 1396.8 L1029.0 1397.6 L1030.3 1399.1 L1031.6 1395.9 L1032.9 1400.2 L1034.2 1395.8 L1035.5 1398.1 L1036.8 1396.0 L1038.1 1399.0 L1039.4 1394.6 L1040.7 1399.1 L1042.0 1395.4 L1043.3 1397.7 L1044.6 1395.2 L1045.9 1397.8 L1047.2 1396.6 L1048.5 1397.4 L1049.8 1396.5 L1051.1 1397.0 L1052.4 1397.1 L1053.7 1395.0 L1055.0 1394.4 L1056.3 1394.3 L1057.6 1396.7 L1058.9 1394.2 L1060.2 1396.8 L1061.5 1394.4 L1062.8 1393.6 L1064.1 1396.3 L1065.4 1396.7 L1066.7 1393.6 L1068.0 1393.6 L1069.3 1393.7 L1070.6 1396.1 L1071.9 1393.6 L1073.2 1395.1 L1074.5 1396.5 L1075.8 1395.4 L1076.5 1396.0 L1077.1 1394.9 L1078.4 1395.1 L1079.7 1395.9 L1081.0 1395.3 L1082.3 1395.7 L1083.6 1393.7 L1084.9 1395.0 L1086.2 1394.2 L1087.5 1393.3 L1088.8 1393.7 L1090.1 1393.5 L1091.4 1391.9 L1092.7 1391.7 L1094.0 1389.8 L1095.3 1391.7 L1096.6 1390.0 L1097.9 1389.9 L1099.2 1388.9 L1100.5 1390.9 L1101.8 1392.3 L1103.1 1389.1 L1104.4 1389.6 L1105.7 1389.7 L1107.0 1388.1 L1108.3 1389.5 L1109.6 1387.8 L1110.9 1388.3 L1112.2 1389.1 L1113.5 1388.7 L1114.8 1388.2 L1116.1 1387.3 L1117.4 1388.9 L1118.7 1386.3 L1120.0 1389.5 L1121.3 1386.7 L1122.6 1387.9 L1123.9 1388.2 L1125.2 1387.5 L1126.5 1384.9 L1127.8 1386.9 L1129.1 1386.8 L1130.4 1384.6 L1131.7 1383.3 L1133.0 1386.6 L1134.3 1385.2 L1135.6 1386.1 L1136.9 1385.1 L1138.2 1385.4 L1139.5 1385.3 L1140.8 1386.8 L1142.1 1385.1 L1143.4 1386.2 L1144.7 1385.4 L1146.0 1388.7 L1147.3 1386.7 L1148.6 1389.3 L1149.0 1385.3 L1149.9 1389.3 L1151.2 1387.4 L1152.5 1387.4 L1153.8 1389.6 L1155.1 1387.5 L1156.4 1387.3 L1157.7 1386.6 L1159.0 1389.7 L1160.3 1386.9 L1161.6 1387.4 L1162.9 1385.0 L1164.2 1388.3 L1165.5 1385.8 L1166.8 1385.2 L1168.1 1385.2 L1169.4 1382.8 L1170.7 1386.4 L1172.0 1382.4 L1173.3 1386.1 L1174.6 1382.8 L1175.9 1383.4 L1177.2 1384.3 L1178.5 1383.5 L1179.8 1381.8 L1181.1 1383.6 L1182.4 1383.7 L1183.7 1382.3 L1185.0 1381.1 L1186.3 1382.8 L1187.6 1381.0 L1188.9 1381.9 L1190.2 1382.2 L1191.5 1381.8 L1192.8 1381.5 L1194.1 1379.5 L1195.4 1382.7 L1196.7 1380.6 L1198.0 1380.9 L1199.3 1381.4 L1200.6 1383.4 L1201.9 1378.1 L1203.2 1379.3 L1204.5 1381.9 L1205.8 1378.7 L1207.1 1382.4 L1208.4 1377.9 L1209.7 1379.9 L1211.0 1380.8 L1212.3 1380.4 L1213.6 1379.7 L1214.9 1379.7 L1216.2 1378.7 L1217.5 1378.5 L1218.8 1378.7 L1220.1 1380.4 L1221.4 1378.8 L1222.7 1378.2 L1224.0 1378.6 L1225.3 1379.0 L1226.6 1379.1 L1227.9 1377.1 L1229.2 1377.7 L1230.5 1377.8 L1231.8 1380.0 L1233.1 1376.5 L1234.4 1378.9 L1235.7 1374.1 L1237.0 1378.7 L1238.3 1373.8 L1239.6 1375.7 L1240.9 1375.3 L1242.2 1375.8 L1243.5 1375.8 L1244.8 1375.8 L1246.1 1375.3 L1247.4 1374.3 L1248.7 1377.4 L1250.0 1374.0 L1251.3 1375.3 L1252.6 1376.4 L1253.9 1374.3 L1255.2 1374.3 L1256.5 1373.7 L1257.8 1375.7 L1259.1 1370.8 L1260.4 1372.5 L1261.7 1373.2 L1263.0 1370.0 L1264.3 1372.6 L1265.6 1374.1 L1266.9 1371.4 L1268.2 1373.1 L1269.5 1373.2 L1270.8 1370.7 L1272.1 1373.5 L1273.4 1371.3 L1274.7 1371.5 L1276.0 1372.5 L1277.3 1372.4 L1278.6 1372.0 L1279.9 1371.8 L1281.2 1374.0 L1282.5 1373.5 L1283.8 1372.9 L1285.1 1372.2 L1286.4 1371.2 L1287.7 1371.9 L1289.0 1371.2 L1290.3 1373.2 L1291.6 1373.5 L1292.9 1373.4 L1294.2 1372.2 L1295.5 1372.1 L1296.8 1372.9 L1298.1 1372.5 L1299.4 1373.3 L1300.7 1374.0 L1302.0 1370.5 L1303.3 1374.2 L1304.6 1368.4 L1305.9 1369.2 L1307.2 1368.7 L1308.5 1369.2 L1309.8 1370.0 L1311.1 1372.6 L1312.4 1368.0 L1313.7 1372.0 L1315.0 1368.6 L1316.3 1370.5 L1317.6 1368.2 L1318.9 1372.5 L1320.2 1368.8 L1321.5 1369.3 L1322.8 1372.5 L1324.1 1369.0 L1325.4 1370.5 L1326.7 1369.2 L1328.0 1368.8 L1329.3 1368.1 L1330.6 1370.0 L1331.9 1371.7 L1333.2 1369.5 L1334.5 1369.5 L1335.8 1371.1 L1337.1 1367.9 L1338.4 1372.1 L1339.7 1368.7 L1341.0 1368.8 L1342.3 1370.7 L1343.6 1369.8 L1344.9 1368.9 L1346.2 1369.9 L1347.5 1370.4 L1348.8 1370.7 L1350.1 1367.4 L1351.4 1366.2 L1352.7 1371.4 L1354.0 1367.2 L1355.3 1368.2 L1356.6 1368.7 L1357.9 1367.1 L1359.2 1369.3 L1360.5 1365.2 L1361.8 1367.7 L1363.1 1365.1 L1364.4 1369.5 L1365.7 1365.3 L1367.0 1368.4 L1368.3 1367.5 L1369.6 1364.2 L1370.9 1366.5 L1372.2 1366.8 L1373.5 1365.6 L1374.8 1365.6 L1376.1 1366.7 L1377.4 1366.3 L1378.7 1364.3 L1380.0 1365.4 L1381.3 1366.0 L1382.6 1365.1 L1383.9 1365.2 L1385.2 1363.4 L1386.5 1367.7 L1387.8 1363.7 L1389.1 1365.8 L1390.4 1364.7 L1391.7 1365.2 L1393.0 1365.1 L1394.3 1363.8 L1395.6 1365.8 L1396.9 1366.1 L1398.2 1364.9 L1399.5 1365.7 L1400.8 1365.0 L1402.1 1364.5 L1403.4 1366.9 L1404.7 1362.6 L1406.0 1365.4 L1407.3 1365.1 L1408.6 1364.0 L1409.9 1362.3 L1411.2 1362.6 L1412.5 1365.8 L1413.8 1360.3 L1415.1 1361.0 L1416.4 1360.5 L1417.7 1360.2 L1419.0 1358.2 L1420.3 1359.3 L1421.6 1361.9 L1422.9 1360.6 L1424.2 1362.3 L1425.5 1362.6 L1426.8 1362.9 L1428.1 1361.1 L1429.4 1361.6 L1430.7 1365.2 L1432.0 1362.1 L1433.3 1362.6 L1434.6 1361.4 L1435.5 1365.3 L1435.9 1361.5 L1437.2 1362.2 L1438.5 1362.5 L1439.8 1359.9 L1441.1 1359.6 L1441.8 1358.0 L1442.4 1358.3 L1443.7 1362.0 L1445.0 1366.0 L1446.3 1369.9 L1447.6 1375.6 L1448.9 1378.5 L1450.2 1377.4 L1451.5 1380.0 L1452.8 1378.1 L1454.1 1378.3 L1455.4 1380.4 L1456.7 1376.0 L1458.0 1354.9 L1459.3 1296.0 L1460.5 1244.2 L1460.6 1245.7 L1461.9 1299.4 L1463.2 1343.4 L1464.5 1364.4 L1465.8 1372.8 L1467.1 1378.5 L1468.4 1379.6 L1469.7 1378.7 L1471.0 1384.4 L1472.3 1382.3 L1473.6 1380.7 L1474.9 1383.4 L1476.2 1383.8 L1477.5 1378.7 L1478.8 1381.6 L1480.1 1380.1 L1481.4 1381.8 L1482.7 1379.7 L1484.0 1378.7 L1485.3 1382.4 L1486.6 1378.8 L1487.9 1381.4 L1489.2 1383.8 L1490.5 1380.6 L1491.8 1382.6 L1493.1 1383.5 L1494.4 1381.6 L1495.7 1382.9 L1497.0 1381.4 L1498.3 1384.1 L1499.6 1381.0 L1500.9 1381.2 L1502.2 1380.3 L1503.5 1380.5 L1504.8 1377.2 L1506.1 1379.6 L1507.4 1379.6 L1508.7 1376.5 L1510.0 1378.8 L1511.3 1377.4 L1512.6 1377.0 L1513.9 1380.1 L1515.2 1377.2 L1516.5 1377.4 L1517.8 1375.6 L1519.1 1377.1 L1520.4 1375.8 L1521.7 1376.3 L1523.0 1376.4 L1524.3 1378.6 L1525.6 1376.6 L1526.9 1377.6 L1528.2 1376.6 L1529.5 1378.0 L1530.8 1373.3 L1532.1 1373.9 L1533.4 1375.5 L1534.7 1374.8 L1536.0 1374.6 L1537.3 1373.7 L1538.6 1375.7 L1539.9 1376.5 L1541.2 1374.4 L1542.5 1374.8 L1543.8 1377.0 L1545.1 1374.6 L1546.4 1375.7 L1547.7 1376.5 L1549.0 1373.5 L1550.3 1378.9 L1551.6 1375.1 L1552.9 1377.0 L1554.2 1375.6 L1555.5 1375.6 L1556.8 1372.6 L1558.1 1376.8 L1559.4 1373.5 L1560.7 1373.8 L1562.0 1375.8 L1563.3 1370.3 L1564.6 1374.9 L1565.9 1372.2 L1567.2 1371.3 L1568.5 1375.7 L1569.8 1370.3 L1571.1 1374.1 L1572.4 1372.5 L1573.7 1373.4 L1575.0 1371.6 L1576.3 1375.3 L1577.6 1372.5 L1578.9 1371.4 L1580.2 1371.9 L1581.5 1373.8 L1582.8 1371.2 L1584.1 1374.2 L1585.4 1373.0 L1586.7 1372.1 L1588.0 1370.4 L1589.3 1371.7 L1590.6 1373.3 L1591.9 1371.4 L1593.2 1374.9 L1594.5 1370.6 L1595.8 1373.1 L1597.1 1372.6 L1598.4 1372.0 L1599.7 1373.1 L1601.0 1374.8 L1602.3 1373.8 L1603.6 1375.2 L1604.9 1373.7 L1606.2 1376.9 L1607.5 1373.3 L1608.8 1375.1 L1610.1 1370.6 L1611.4 1373.3 L1612.7 1371.1 L1614.0 1373.1 L1615.3 1371.4 L1616.6 1370.9 L1617.9 1372.0 L1619.2 1373.1 L1620.5 1373.2 L1621.8 1371.1 L1623.1 1374.2 L1624.4 1371.1 L1625.7 1374.1 L1627.0 1371.3 L1628.3 1375.1 L1629.6 1375.8 L1630.9 1372.2 L1632.2 1375.8 L1633.5 1371.1 L1634.8 1374.1 L1636.1 1376.8 L1637.4 1373.3 L1638.7 1375.5 L1640.0 1371.9 L1640.5 1375.4 L1641.3 1373.4 L1642.6 1372.4 L1643.9 1367.9 L1645.2 1365.0 L1646.5 1356.3 L1647.8 1353.5 L1648.0 1352.0 L1649.1 1357.0 L1650.4 1366.7 L1651.7 1374.0 L1653.0 1377.8 L1654.3 1381.0 L1655.6 1380.8 L1656.9 1380.4 L1658.2 1381.4 L1659.5 1377.9 L1660.8 1383.0 L1662.1 1380.4 L1663.4 1377.8 L1664.7 1383.4 L1666.0 1379.2 L1667.3 1382.1 L1668.6 1378.2 L1669.9 1381.1 L1671.2 1378.6 L1672.5 1383.3 L1673.8 1380.4 L1675.1 1380.7 L1676.4 1381.5 L1677.7 1383.5 L1679.0 1380.7 L1680.3 1384.2 L1681.6 1381.5 L1682.9 1382.9 L1684.2 1385.2 L1685.5 1385.9 L1686.8 1387.5 L1688.1 1389.3 L1689.4 1388.3 L1690.7 1390.3 L1692.0 1392.7 L1693.3 1393.0 L1694.6 1394.2 L1695.9 1396.4 L1697.2 1394.9 L1698.5 1398.8 L1699.2 1396.5 L1699.8 1399.0 L1701.1 1399.7 L1702.4 1395.6 L1703.7 1399.9 L1705.0 1395.6 L1706.3 1396.5 L1707.6 1394.6 L1708.9 1394.1 L1710.2 1389.4 L1711.5 1385.0 L1712.8 1381.8 L1713.8 1379.3 L1714.1 1380.2 L1715.4 1385.5 L1716.7 1391.8 L1718.0 1397.8 L1719.3 1402.5 L1720.6 1407.0 L1721.9 1410.4 L1723.2 1413.3 L1724.5 1414.6 L1725.8 1417.7 L1727.1 1420.6 L1728.4 1418.4 L1729.2 1421.1 L1729.7 1418.9 L1731.0 1418.9 L1732.3 1418.1 L1733.6 1416.6 L1734.9 1412.5 L1736.2 1401.0 L1737.5 1393.5 L1738.8 1386.9 L1739.2 1386.3 L1740.1 1387.6 L1741.4 1398.3 L1742.7 1405.9 L1744.0 1414.6 L1745.3 1422.0 L1746.6 1426.1 L1747.9 1427.8 L1749.2 1430.7 L1750.5 1433.7 L1751.8 1431.6 L1753.1 1435.3 L1754.2 1436.8 L1754.4 1437.3 L1755.7 1437.2 L1757.0 1436.0 L1758.3 1437.3 L1759.6 1433.3 L1760.9 1431.3 L1762.2 1432.5 L1763.5 1432.6 L1764.8 1431.9 L1766.1 1428.7 L1767.4 1432.7 L1768.7 1429.4 L1770.0 1431.1 L1771.3 1432.5 L1772.6 1429.6 L1773.9 1429.7 L1775.2 1430.3 L1776.5 1429.2 L1777.8 1432.8 L1779.1 1430.2 L1780.4 1431.2 L1781.7 1428.8 L1783.0 1430.3 L1784.3 1431.9 L1785.6 1429.5 L1786.9 1435.4 L1788.2 1431.3 L1789.5 1435.7 L1790.8 1435.6 L1792.1 1435.3 L1793.4 1438.2 L1794.7 1438.9 L1796.0 1441.4 L1797.3 1439.8 L1798.6 1443.7 L1799.9 1441.7 L1801.2 1442.3 L1801.8 1442.9 L1802.5 1441.7 L1803.8 1439.5 L1805.1 1434.6 L1806.4 1422.3 L1807.7 1395.0 L1809.0 1353.9 L1809.2 1353.2 L1810.3 1377.5 L1811.6 1414.5 L1812.9 1436.9 L1814.2 1439.6 L1815.5 1440.0 L1816.8 1441.6 L1818.1 1440.9 L1819.4 1444.1 L1820.7 1441.0 L1822.0 1443.3 L1823.3 1442.4 L1824.2 1444.0 L1824.6 1441.1 L1825.9 1442.5 L1827.2 1442.0 L1828.5 1441.3 L1829.8 1441.2 L1831.1 1440.1 L1832.4 1442.7 L1833.7 1442.3 L1835.0 1438.6 L1836.3 1441.7 L1837.6 1437.5 L1838.9 1439.0 L1840.2 1438.7 L1841.5 1438.9 L1842.8 1438.9 L1844.1 1435.5 L1845.4 1437.2 L1846.7 1438.3 L1848.0 1437.3 L1849.3 1440.4 L1850.6 1436.2 L1851.9 1437.1 L1853.2 1439.1 L1854.5 1434.6 L1855.8 1435.6 L1857.1 1439.8 L1858.4 1435.3 L1859.7 1437.8 L1861.0 1436.5 L1862.3 1436.0 L1863.6 1437.2 L1864.9 1435.2 L1866.2 1439.1 L1867.5 1437.7 L1868.8 1438.4 L1870.1 1436.3 L1871.4 1436.0 L1872.7 1438.3 L1874.0 1436.9 L1875.3 1439.6 L1876.6 1436.2 L1877.9 1438.4 L1878.0 1439.0 L1879.2 1439.0 L1880.5 1438.0 L1881.8 1435.5 L1883.1 1435.7 L1884.4 1437.5 L1885.7 1433.0 L1887.0 1430.9 L1888.3 1429.1 L1889.2 1427.2 L1889.6 1427.8 L1890.9 1429.6 L1892.2 1434.0 L1893.5 1434.8 L1894.8 1435.7 L1896.1 1435.2 L1897.4 1435.8 L1898.7 1438.8 L1900.0 1438.8 L1901.3 1441.1 L1902.6 1436.7 L1903.9 1438.6 L1905.2 1439.3 L1906.5 1438.2 L1907.8 1436.0 L1909.1 1439.1 L1910.4 1436.1 L1911.7 1437.3 L1913.0 1435.9 L1914.3 1437.1 L1915.6 1434.6 L1916.9 1435.5 L1918.2 1436.8 L1919.5 1435.3 L1920.8 1435.6 L1922.1 1436.5 L1923.4 1434.9 L1924.7 1435.7 L1926.0 1432.4 L1927.3 1435.3 L1928.6 1436.1 L1929.9 1433.5 L1931.2 1435.2 L1932.5 1435.3 L1933.8 1434.8 L1935.1 1436.3 L1936.4 1435.2 L1937.7 1434.7 L1939.0 1436.6 L1940.3 1434.0 L1941.6 1434.4 L1942.9 1435.6 L1944.2 1435.4 L1945.5 1434.3 L1946.8 1433.2 L1948.1 1434.2 L1949.4 1434.7 L1950.7 1435.0 L1952.0 1436.2 L1953.3 1433.1 L1954.6 1434.1 L1955.9 1431.6 L1957.2 1437.3 L1958.5 1435.4 L1959.8 1435.5 L1961.1 1435.2 L1962.4 1434.0 L1963.7 1439.2 L1965.0 1436.1 L1966.3 1440.9 L1967.6 1438.9 L1968.9 1441.0 L1970.2 1439.1 L1971.5 1442.3 L1972.8 1438.2 L1974.1 1443.7 L1974.7 1440.1 L1975.4 1439.0 L1976.7 1431.5 L1978.0 1425.8 L1979.3 1422.6 L1979.6 1421.7 L1980.6 1425.6 L1981.9 1434.6 L1983.2 1439.1 L1984.5 1442.9 L1985.6 1444.9 L1985.8 1445.4 L1987.1 1443.3 L1988.4 1443.7 L1989.7 1436.4 L1991.0 1436.3 L1992.3 1425.4 L1993.6 1418.6 L1993.6 1419.2 L1994.9 1425.8 L1996.2 1435.0 L1997.5 1439.4 L1998.8 1442.2 L2000.1 1443.7 L2001.4 1445.6 L2002.7 1448.2 L2004.0 1444.8 L2005.3 1445.1 L2006.6 1446.9 L2007.9 1445.9 L2009.2 1445.3 L2010.5 1447.2 L2011.8 1446.7 L2013.1 1447.3 L2014.4 1449.1 L2015.7 1449.0 L2017.0 1448.6 L2018.3 1448.2 L2019.6 1449.9 L2020.9 1449.2 L2022.2 1450.1 L2023.5 1448.6 L2024.8 1447.5 L2026.1 1452.4 L2027.4 1448.9 L2028.7 1450.4 L2030.0 1450.7 L2031.3 1450.9 L2032.6 1451.2 L2033.9 1455.1 L2035.2 1454.0 L2036.5 1456.9 L2037.8 1456.5 L2039.1 1459.2 L2040.4 1459.7 L2041.7 1459.3 L2043.0 1460.3 L2044.3 1458.6 L2045.6 1461.2 L2046.9 1458.7 L2048.2 1460.6 L2049.5 1459.7 L2050.8 1461.5 L2052.1 1462.3 L2053.4 1461.1 L2054.7 1460.1 L2056.0 1462.0 L2057.3 1462.8 L2058.6 1462.4 L2059.9 1462.6 L2061.2 1461.2 L2062.5 1463.5 L2063.7 1463.7 L2063.8 1462.9 L2064.8 1443.2 L2065.1 1444.0 L2066.4 1460.5 L2067.7 1473.8 L2069.0 1479.7 L2070.3 1484.3 L2071.6 1487.7 L2072.9 1489.8 L2074.2 1492.7 L2075.5 1494.9 L2076.8 1498.2 L2078.1 1501.5 L2079.4 1503.7 L2080.7 1504.9 L2080.8 1504.8 L2082.0 1503.5 L2083.3 1502.4 L2084.6 1492.3 L2085.9 1436.6 L2086.5 1403.1 L2087.2 1424.1 L2088.5 1477.0 L2089.1 1489.0 L2089.8 1472.5 L2091.1 1399.2 L2092.1 1361.9 L2092.4 1366.8 L2093.7 1446.2 L2095.0 1502.5 L2096.3 1520.7 L2097.6 1525.5 L2098.1 1524.9 L2098.9 1527.4 L2100.2 1525.0 L2101.5 1527.6 L2102.8 1524.4 L2104.1 1527.2 L2105.4 1522.0 L2106.7 1527.3 L2108.0 1524.5 L2109.3 1525.1 L2110.6 1528.1 L2111.9 1526.6 L2113.2 1529.9 L2114.5 1529.7 L2115.8 1530.1 L2117.1 1531.5 L2118.4 1529.6 L2119.7 1531.1 L2121.0 1528.1 L2122.3 1528.0 L2123.6 1527.9 L2124.9 1526.6 L2126.2 1524.5 L2127.5 1526.1 L2128.8 1523.0 L2129.9 1524.9 L2130.1 1524.2 L2131.4 1525.0 L2132.7 1526.0 L2134.0 1529.5 L2135.3 1529.5 L2136.6 1532.2 L2137.9 1530.9 L2139.2 1532.4 L2140.5 1530.5 L2141.8 1531.7 L2143.1 1530.3 L2144.4 1531.6 L2145.7 1533.4 L2147.0 1531.7 L2148.3 1532.5 L2149.6 1531.8 L2150.9 1535.0 L2152.2 1531.8 L2153.5 1534.6 L2154.8 1532.1 L2156.1 1534.4 L2157.4 1531.1 L2158.7 1531.8 L2160.0 1534.9 L2161.3 1531.9 L2162.6 1533.7 L2163.9 1533.8 L2165.2 1533.1 L2166.5 1532.1 L2167.8 1529.7 L2169.1 1530.5 L2170.4 1530.5 L2171.7 1530.5 L2173.0 1529.7 L2173.7 1529.6 L2174.3 1528.2 L2175.6 1530.8 L2176.9 1533.1 L2178.2 1531.7 L2179.5 1533.7 L2180.8 1535.8 L2182.1 1536.6 L2183.4 1535.3 L2184.7 1535.7 L2186.0 1534.7 L2187.3 1536.6 L2188.6 1535.4 L2189.9 1537.5 L2191.2 1538.0 L2192.5 1537.9 L2193.8 1539.5 L2195.1 1536.2 L2196.4 1537.2 L2196.6 1539.1 L2197.7 1533.3 L2199.0 1526.9 L2200.3 1528.0 L2201.6 1525.1 L2202.9 1527.2 L2204.2 1527.1 L2205.5 1528.6 L2206.8 1529.1 L2208.1 1536.1 L2209.4 1540.6 L2210.6 1543.3" stroke="#929000" stroke-width="2.8"/>
</g>
<g id="peak-labels">
<text transform="translate(484.0 321.7) rotate(-90) scale(1 1.09)" font-size="46.5">Au NOO</text>
<text transform="translate(1194.7 347.0) rotate(-90) scale(1 1.09)" font-size="46.5">Au 4s</text>
<text transform="translate(1361.5 332.0) rotate(-90) scale(1 1.09)" font-size="46.5">Au 4p<tspan dy="17" font-size="29">1/2</tspan></text>
<text transform="translate(1496.8 339.0) rotate(-90) scale(1 1.09)" font-size="46.5">Au 4p<tspan dy="17" font-size="29">3/2</tspan></text>
<text transform="translate(1748.9 258.4) rotate(-90) scale(1 1.09)" font-size="46.5">Au 4d</text>
<text transform="translate(1844.6 352.3) rotate(-90) scale(1 1.09)" font-size="46.5">C 1s</text>
<text transform="translate(2148.8 193.8) rotate(-90) scale(1 1.09)" font-size="46.5">Au 4f</text>
<text transform="translate(379.4 804.3) rotate(-90) scale(1 1.09)" font-size="46.5">S LMM</text>
<text transform="translate(536.6 842.0) rotate(-90) scale(1 1.09)" font-size="46.5">C KLL</text>
<text transform="translate(888.1 824.5) rotate(-90) scale(1 1.09)" font-size="46.5">O KLL</text>
<text transform="translate(1528.2 744.1) rotate(-90) scale(1 1.09)" font-size="46.5">O 1s</text>
<text transform="translate(1742.4 750.2) rotate(-90) scale(1 1.09)" font-size="46.5">Au 4d</text>
<text transform="translate(1830.8 761.7) rotate(-90) scale(1 1.09)" font-size="46.5">C 1s</text>
<text transform="translate(1901.0 835.4) rotate(-90) scale(1 1.09)" font-size="46.5">S 2s</text>
<text transform="translate(1963.2 789.4) rotate(-90) scale(1 1.09)" font-size="46.5">S 2p</text>
<text transform="translate(1990.4 666.7) rotate(-90) scale(1 1.09)" font-size="46.5">Si 2S</text>
<text transform="translate(2074.4 706.1) rotate(-90) scale(1 1.09)" font-size="46.5">Si 2p</text>
<text transform="translate(2151.7 723.0) rotate(-90) scale(1 1.09)" font-size="46.5">Au 4f</text>
<text transform="translate(366.2 1393.6) rotate(-90) scale(1 1.09)" font-size="46.5">S LMM</text>
<text transform="translate(528.0 1410.9) rotate(-90) scale(1 1.09)" font-size="46.5">C KLL</text>
<text transform="translate(874.9 1396.8) rotate(-90) scale(1 1.09)" font-size="46.5">O KLL</text>
<text transform="translate(1515.4 1332.1) rotate(-90) scale(1 1.09)" font-size="46.5">O 1s</text>
<text transform="translate(1670.0 1342.0) rotate(-90) scale(1 1.09)" font-size="46.5">N 1s</text>
<text transform="translate(1747.0 1362.4) rotate(-90) scale(1 1.09)" font-size="46.5">Au 4d</text>
<text transform="translate(1827.4 1342.9) rotate(-90) scale(1 1.09)" font-size="46.5">C 1s</text>
<text transform="translate(1894.9 1395.8) rotate(-90) scale(1 1.09)" font-size="46.5">S 2s</text>
<text transform="translate(1961.8 1377.9) rotate(-90) scale(1 1.09)" font-size="46.5">S 2p</text>
<text transform="translate(1982.4 1244.4) rotate(-90) scale(1 1.09)" font-size="46.5">Si 2S</text>
<text transform="translate(2068.3 1265.0) rotate(-90) scale(1 1.09)" font-size="46.5">Si 2p</text>
<text transform="translate(2137.9 1312.3) rotate(-90) scale(1 1.09)" font-size="46.5">Au 4f</text>
</g>
<g id="markers">
<path d="M1977.2 709.9 L1977.6 730.3 M1978.0 754.2 L1978.0 755.4 M1978.5 778.7 L1978.5 779.9 M1978.9 804.7 L1979.1 814.8" fill="none" stroke="#000" stroke-width="8" stroke-linecap="round"/>
<path d="M1993.5 656.1 L1993.8 674.2 M1994.2 698.9 L1994.2 700.1 M1994.6 725.0 L1994.6 726.2 M1995.0 750.9 L1995.3 770.6 M1995.7 795.3 L1995.7 796.5 M1996.1 819.8 L1996.1 821.0" fill="none" stroke="#000" stroke-width="8" stroke-linecap="round"/>
<path d="M2068.1 709.9 L2068.4 728.7 M2068.8 752.7 L2068.8 753.9 M2069.2 777.9 L2069.2 779.1 M2069.6 803.9 L2070.0 823.5 M2070.4 848.3 L2070.4 849.5 M2070.8 872.8 L2070.8 874.0" fill="none" stroke="#000" stroke-width="8" stroke-linecap="round"/>
<path d="M1976.0 1307.8 L1976.1 1327.8 M1976.2 1352.9 L1976.2 1354.1 M1976.3 1377.7 L1976.3 1378.9 M1976.4 1402.8 L1976.4 1413.0" fill="none" stroke="#000" stroke-width="7.5" stroke-linecap="round"/>
<path d="M1992.6 1240.3 L1992.9 1259.0 M1993.1 1283.3 L1993.1 1284.5 M1993.4 1308.1 L1993.4 1309.3 M1993.7 1333.8 L1993.9 1355.2 M1994.2 1377.7 L1994.2 1378.9 M1994.5 1403.8 L1994.5 1405.0" fill="none" stroke="#000" stroke-width="7.5" stroke-linecap="round"/>
<path d="M2062.8 1269.2 L2063.1 1287.8 M2063.3 1313.0 L2063.3 1314.2 M2063.6 1337.2 L2063.6 1338.4 M2063.9 1364.2 L2064.1 1384.2 M2064.4 1408.0 L2064.4 1409.2 M2064.7 1434.1 L2064.7 1435.3" fill="none" stroke="#000" stroke-width="7.5" stroke-linecap="round"/>
</g>
</svg>
</body>
</html>
